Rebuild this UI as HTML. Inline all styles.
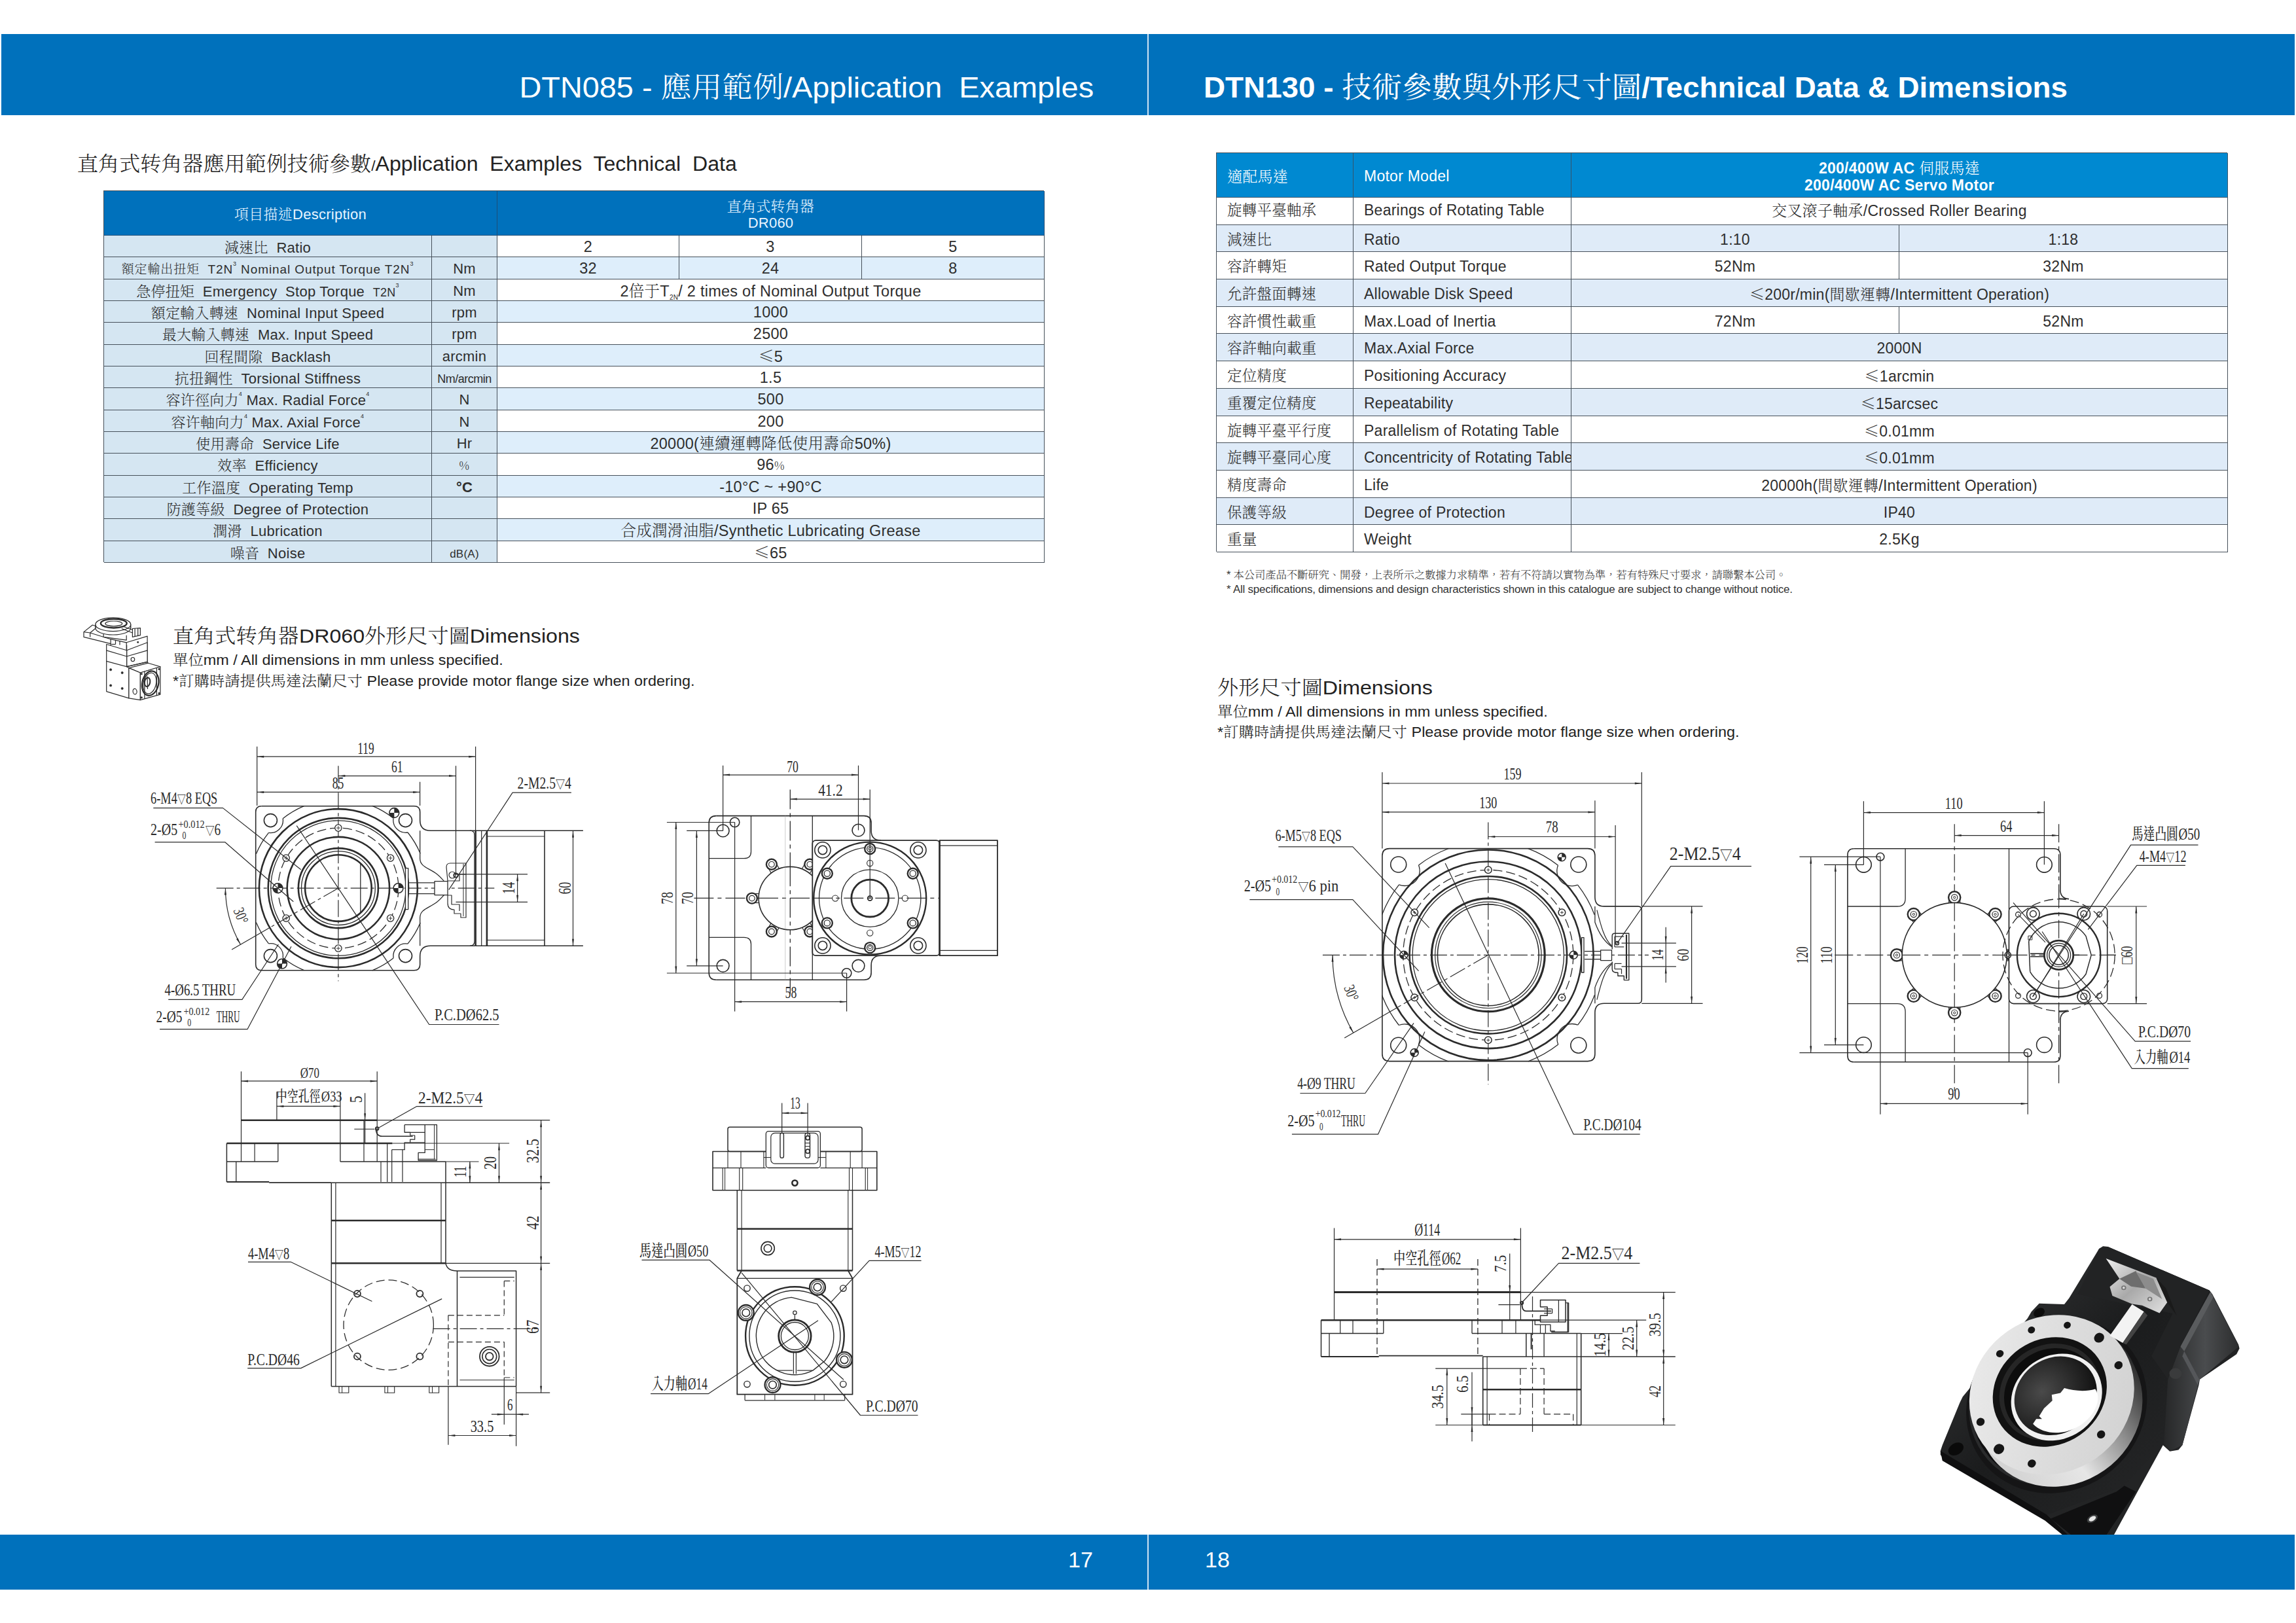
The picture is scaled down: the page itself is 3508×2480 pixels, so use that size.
<!DOCTYPE html><html lang="zh-Hant"><head><meta charset="utf-8"><title>DTN085 / DTN130</title><style>
html,body{margin:0;padding:0;background:#fff}
body{width:3508px;height:2480px;position:relative;overflow:hidden;font-family:"Liberation Sans","Noto Serif CJK SC",sans-serif;color:#2e2e2e}
.cj{font-family:"Noto Serif CJK SC","Liberation Sans",serif;font-weight:300}
.band{position:absolute;background:#0071bc}
.vsep{position:absolute;width:2px;background:#cfe3f3}
.t{position:absolute;white-space:nowrap;line-height:1;transform-origin:left}
.hd{font-size:44px;color:#fff}
.hd.b{font-weight:bold}
.hd .n{font-weight:400}
.pg{font-size:34px;color:#fff}
.h1{font-size:31px;color:#222}
.h2{font-size:30px;color:#222}
.sub{font-size:22px;color:#222;transform:scaleX(1.064)}
.fn{font-size:16px;color:#333;letter-spacing:-.2px}
.tbl{position:absolute;box-shadow:-1px -1px 0 0 #46505a}
.c{position:absolute;box-sizing:border-box;border:solid #46505a;border-width:0 1px 1px 0;display:flex;align-items:center;justify-content:center;text-align:center;font-size:22px;white-space:nowrap;line-height:1;letter-spacing:.25px;padding-top:3px}
.c.l{justify-content:flex-start;padding-left:16px;text-align:left}
.c sup{font-size:9px;vertical-align:top;position:relative;top:-1px;line-height:1}
.c sub{font-size:10px;vertical-align:baseline;position:relative;top:5px;line-height:1}
.lh{background:#0071bc;color:#e8f4ff;border-color:#1d4f78}
.rh{background:#0089d1;color:#fff;font-size:23px;border-color:#35556b}
.lab{background:#d5e6f2}
.wh{background:#fff}
.tbl:not(.r) .wh,.tbl:not(.r) .lb{font-size:23.5px}
.lb{background:#deeefb}
.rb{background:#dfebf8}
.r .c{font-size:23px;padding-top:4px;padding-bottom:0}
.r .c.f1{padding-top:0;padding-bottom:3px}
.sm{font-size:19px;letter-spacing:.9px}
.le{font-family:"Noto Serif CJK SC",serif;font-weight:300}
svg{position:absolute;left:0;top:0}
svg *{vector-effect:none}
.dw{fill:none;stroke:#2b2b2b;stroke-linecap:butt;stroke-linejoin:round}
.ct{font-family:"Liberation Serif","Noto Serif CJK SC",serif;fill:#2b2b2b;stroke:none}
tspan.tri{font-size:.72em}
.ck{font-family:"Noto Serif CJK SC","Liberation Serif",serif;font-weight:500;fill:#2b2b2b;stroke:none}
</style></head><body>
<div class="band" style="left:2px;top:52px;width:3504px;height:124px"></div>
<div class="vsep" style="left:1753px;top:52px;height:124px"></div>
<div class="band" style="left:0;top:2345px;width:3506px;height:84px"></div>
<div class="vsep" style="left:1753px;top:2345px;height:84px"></div>
<div class="t hd" style="right:1837px;top:108px;transform:scaleX(1.065);transform-origin:right">DTN085 - <span class="cj">應用範例</span>/Application&nbsp; Examples</div>
<div class="t hd b" style="left:1839px;top:108px;transform:scaleX(1.041)">DTN130 - <span class="cj n">技術參數與外形尺寸圖</span>/Technical Data &amp; Dimensions</div>
<div class="t pg" style="left:1632px;top:2366px">17</div>
<div class="t pg" style="left:1841px;top:2366px">18</div>
<div class="t h1" style="left:118px;top:232px;transform:scaleX(1.035)"><span class="cj">直角式转角器應用範例技術參數</span><span style="font-size:22px">/</span>Application&nbsp; Examples&nbsp; Technical&nbsp; Data</div>
<div class="t h2" style="left:264px;top:954px;transform:scaleX(1.072)"><span class="cj">直角式转角器</span>DR060<span class="cj">外形尺寸圖</span>Dimensions</div>
<div class="t sub" style="left:264px;top:996px"><span class="cj">單位</span>mm / All dimensions in mm unless specified.</div>
<div class="t sub" style="left:264px;top:1028px">*<span class="cj">訂購時請提供馬達法蘭尺寸</span> Please provide motor flange size when ordering.</div>
<div class="t h2" style="left:1860px;top:1033px;transform:scaleX(1.072)"><span class="cj">外形尺寸圖</span>Dimensions</div>
<div class="t sub" style="left:1860px;top:1075px"><span class="cj">單位</span>mm / All dimensions in mm unless specified.</div>
<div class="t sub" style="left:1860px;top:1106px">*<span class="cj">訂購時請提供馬達法蘭尺寸</span> Please provide motor flange size when ordering.</div>
<div class="t fn" style="left:1874px;top:870px;transform:scaleX(1.028)">* <span class="cj">本公司產品不斷研究、開發，上表所示之數據力求精準，若有不符請以實物為準，若有特殊尺寸要求，請聯繫本公司。</span></div>
<div class="t fn" style="left:1874px;top:893px;transform:scaleX(1.057)">* All specifications, dimensions and design characteristics shown in this catalogue are subject to change without notice.</div>
<div class="tbl" style="left:159px;top:292px;width:1437px;height:568px">
<div class="c lh" style="left:0.0px;top:0.0px;width:601.0px;height:68.0px;"><span><span class="cj">項目描述</span>Description</span></div>
<div class="c lh" style="left:601.0px;top:0.0px;width:836.0px;height:68.0px;line-height:25px"><span><span class="cj">直角式转角器</span><br>DR060</span></div>
<div class="c lab" style="left:0.0px;top:68.0px;width:501.0px;height:33.0px;"><span><span class="cj">減速比</span>&nbsp; Ratio</span></div>
<div class="c lab" style="left:501.0px;top:68.0px;width:100.0px;height:33.0px;"><span></span></div>
<div class="c wh" style="left:601.0px;top:68.0px;width:278.0px;height:33.0px;"><span>2</span></div>
<div class="c wh" style="left:879.0px;top:68.0px;width:279.0px;height:33.0px;"><span>3</span></div>
<div class="c wh" style="left:1158.0px;top:68.0px;width:279.0px;height:33.0px;"><span>5</span></div>
<div class="c lab" style="left:0.0px;top:101.0px;width:501.0px;height:34.0px;"><span><span class="sm"><span class="cj">額定輸出扭矩</span>&nbsp; T2N<sup>3</sup> Nominal Output Torque T2N<sup>3</sup></span></span></div>
<div class="c lab" style="left:501.0px;top:101.0px;width:100.0px;height:34.0px;"><span>Nm</span></div>
<div class="c lb" style="left:601.0px;top:101.0px;width:278.0px;height:34.0px;"><span>32</span></div>
<div class="c lb" style="left:879.0px;top:101.0px;width:279.0px;height:34.0px;"><span>24</span></div>
<div class="c lb" style="left:1158.0px;top:101.0px;width:279.0px;height:34.0px;"><span>8</span></div>
<div class="c lab" style="left:0.0px;top:135.0px;width:501.0px;height:33.0px;"><span><span class="cj">急停扭矩</span>&nbsp; Emergency&nbsp; Stop Torque&nbsp; <span style="font-size:18px">T2N<sup>3</sup></span></span></div>
<div class="c lab" style="left:501.0px;top:135.0px;width:100.0px;height:33.0px;"><span>Nm</span></div>
<div class="c wh" style="left:601.0px;top:135.0px;width:836.0px;height:33.0px;"><span>2<span class="cj">倍于</span>T<sub>2N</sub>/ 2 times of Nominal Output Torque</span></div>
<div class="c lab" style="left:0.0px;top:168.0px;width:501.0px;height:33.0px;"><span><span class="cj">額定輸入轉速</span>&nbsp; Nominal Input Speed</span></div>
<div class="c lab" style="left:501.0px;top:168.0px;width:100.0px;height:33.0px;"><span>rpm</span></div>
<div class="c lb" style="left:601.0px;top:168.0px;width:836.0px;height:33.0px;"><span>1000</span></div>
<div class="c lab" style="left:0.0px;top:201.0px;width:501.0px;height:34.0px;"><span><span class="cj">最大輸入轉速</span>&nbsp; Max. Input Speed</span></div>
<div class="c lab" style="left:501.0px;top:201.0px;width:100.0px;height:34.0px;"><span>rpm</span></div>
<div class="c wh" style="left:601.0px;top:201.0px;width:836.0px;height:34.0px;"><span>2500</span></div>
<div class="c lab" style="left:0.0px;top:235.0px;width:501.0px;height:33.0px;"><span><span class="cj">回程間隙</span>&nbsp; Backlash</span></div>
<div class="c lab" style="left:501.0px;top:235.0px;width:100.0px;height:33.0px;"><span>arcmin</span></div>
<div class="c lb" style="left:601.0px;top:235.0px;width:836.0px;height:33.0px;"><span><span class="le" lang="zh-CN">≤</span>5</span></div>
<div class="c lab" style="left:0.0px;top:268.0px;width:501.0px;height:33.0px;"><span><span class="cj">抗扭鋼性</span>&nbsp; Torsional Stiffness</span></div>
<div class="c lab" style="left:501.0px;top:268.0px;width:100.0px;height:33.0px;"><span><span style="font-size:18px;letter-spacing:-.5px">Nm/arcmin</span></span></div>
<div class="c wh" style="left:601.0px;top:268.0px;width:836.0px;height:33.0px;"><span>1.5</span></div>
<div class="c lab" style="left:0.0px;top:301.0px;width:501.0px;height:34.0px;"><span><span class="cj">容许徑向力</span><sup>4</sup> Max. Radial Force<sup>4</sup></span></div>
<div class="c lab" style="left:501.0px;top:301.0px;width:100.0px;height:34.0px;"><span>N</span></div>
<div class="c lb" style="left:601.0px;top:301.0px;width:836.0px;height:34.0px;"><span>500</span></div>
<div class="c lab" style="left:0.0px;top:335.0px;width:501.0px;height:33.0px;"><span><span class="cj">容许軸向力</span><sup>4</sup> Max. Axial Force<sup>4</sup></span></div>
<div class="c lab" style="left:501.0px;top:335.0px;width:100.0px;height:33.0px;"><span>N</span></div>
<div class="c wh" style="left:601.0px;top:335.0px;width:836.0px;height:33.0px;"><span>200</span></div>
<div class="c lab" style="left:0.0px;top:368.0px;width:501.0px;height:33.0px;"><span><span class="cj">使用壽命</span>&nbsp; Service Life</span></div>
<div class="c lab" style="left:501.0px;top:368.0px;width:100.0px;height:33.0px;"><span>Hr</span></div>
<div class="c lb" style="left:601.0px;top:368.0px;width:836.0px;height:33.0px;"><span>20000(<span class="cj">連續運轉降低使用壽命</span>50%)</span></div>
<div class="c lab" style="left:0.0px;top:401.0px;width:501.0px;height:34.0px;"><span><span class="cj">效率</span>&nbsp; Efficiency</span></div>
<div class="c lab" style="left:501.0px;top:401.0px;width:100.0px;height:34.0px;"><span><span class="cj" style="font-size:17px">%</span></span></div>
<div class="c wh" style="left:601.0px;top:401.0px;width:836.0px;height:34.0px;"><span>96<span class="cj" style="font-size:17px">%</span></span></div>
<div class="c lab" style="left:0.0px;top:435.0px;width:501.0px;height:33.0px;"><span><span class="cj">工作溫度</span>&nbsp; Operating Temp</span></div>
<div class="c lab" style="left:501.0px;top:435.0px;width:100.0px;height:33.0px;"><span><b>°C</b></span></div>
<div class="c lb" style="left:601.0px;top:435.0px;width:836.0px;height:33.0px;"><span>-10°C ~ +90°C</span></div>
<div class="c lab" style="left:0.0px;top:468.0px;width:501.0px;height:33.0px;"><span><span class="cj">防護等級</span>&nbsp; Degree of Protection</span></div>
<div class="c lab" style="left:501.0px;top:468.0px;width:100.0px;height:33.0px;"><span></span></div>
<div class="c wh" style="left:601.0px;top:468.0px;width:836.0px;height:33.0px;"><span>IP 65</span></div>
<div class="c lab" style="left:0.0px;top:501.0px;width:501.0px;height:34.0px;"><span><span class="cj">潤滑</span>&nbsp; Lubrication</span></div>
<div class="c lab" style="left:501.0px;top:501.0px;width:100.0px;height:34.0px;"><span></span></div>
<div class="c lb" style="left:601.0px;top:501.0px;width:836.0px;height:34.0px;"><span><span class="cj">合成潤滑油脂</span>/Synthetic Lubricating Grease</span></div>
<div class="c lab" style="left:0.0px;top:535.0px;width:501.0px;height:33.0px;"><span><span class="cj">噪音</span>&nbsp; Noise</span></div>
<div class="c lab" style="left:501.0px;top:535.0px;width:100.0px;height:33.0px;"><span><span style="font-size:17px">dB(A)</span></span></div>
<div class="c wh" style="left:601.0px;top:535.0px;width:836.0px;height:33.0px;"><span><span class="le" lang="zh-CN">≤</span>65</span></div>
</div>
<div class="tbl r" style="left:1859px;top:234px;width:1545px;height:610px">
<div class="c rh l" style="left:0.0px;top:0.0px;width:209.0px;height:68.0px;"><span><span class="cj">適配馬達</span></span></div>
<div class="c rh l" style="left:209.0px;top:0.0px;width:333.0px;height:68.0px;"><span>Motor Model</span></div>
<div class="c rh" style="left:542.0px;top:0.0px;width:1003.0px;height:68.0px;line-height:26px"><span><b>200/400W AC</b> <span class="cj">伺服馬達</span><br><b>200/400W AC Servo Motor</b></span></div>
<div class="c wh f1 l" style="left:0.0px;top:68.0px;width:209.0px;height:42.0px;"><span><span class="cj" style="position:relative;top:-1px;font-size:22.5px">旋轉平臺軸承</span></span></div>
<div class="c wh f1 l" style="left:209.0px;top:68.0px;width:333.0px;height:42.0px;"><span>Bearings of Rotating Table</span></div>
<div class="c wh f1" style="left:542.0px;top:68.0px;width:1003.0px;height:42.0px;"><span><span class="cj">交叉滾子軸承</span>/Crossed Roller Bearing</span></div>
<div class="c rb l" style="left:0.0px;top:110.0px;width:209.0px;height:41.0px;"><span><span class="cj" style="position:relative;top:-1px;font-size:22.5px">減速比</span></span></div>
<div class="c rb l" style="left:209.0px;top:110.0px;width:333.0px;height:41.0px;"><span>Ratio</span></div>
<div class="c rb" style="left:542.0px;top:110.0px;width:501.0px;height:41.0px;"><span>1:10</span></div>
<div class="c rb" style="left:1043.0px;top:110.0px;width:502.0px;height:41.0px;"><span>1:18</span></div>
<div class="c wh l" style="left:0.0px;top:151.0px;width:209.0px;height:42.0px;"><span><span class="cj" style="position:relative;top:-1px;font-size:22.5px">容許轉矩</span></span></div>
<div class="c wh l" style="left:209.0px;top:151.0px;width:333.0px;height:42.0px;"><span>Rated Output Torque</span></div>
<div class="c wh" style="left:542.0px;top:151.0px;width:501.0px;height:42.0px;"><span>52Nm</span></div>
<div class="c wh" style="left:1043.0px;top:151.0px;width:502.0px;height:42.0px;"><span>32Nm</span></div>
<div class="c rb l" style="left:0.0px;top:193.0px;width:209.0px;height:42.0px;"><span><span class="cj" style="position:relative;top:-1px;font-size:22.5px">允許盤面轉速</span></span></div>
<div class="c rb l" style="left:209.0px;top:193.0px;width:333.0px;height:42.0px;"><span>Allowable Disk Speed</span></div>
<div class="c rb" style="left:542.0px;top:193.0px;width:1003.0px;height:42.0px;"><span><span class="le" lang="zh-CN">≤</span>200r/min(<span class="cj">間歇運轉</span>/Intermittent Operation)</span></div>
<div class="c wh l" style="left:0.0px;top:235.0px;width:209.0px;height:41.0px;"><span><span class="cj" style="position:relative;top:-1px;font-size:22.5px">容許慣性載重</span></span></div>
<div class="c wh l" style="left:209.0px;top:235.0px;width:333.0px;height:41.0px;"><span>Max.Load of Inertia</span></div>
<div class="c wh" style="left:542.0px;top:235.0px;width:501.0px;height:41.0px;"><span>72Nm</span></div>
<div class="c wh" style="left:1043.0px;top:235.0px;width:502.0px;height:41.0px;"><span>52Nm</span></div>
<div class="c rb l" style="left:0.0px;top:276.0px;width:209.0px;height:42.0px;"><span><span class="cj" style="position:relative;top:-1px;font-size:22.5px">容許軸向載重</span></span></div>
<div class="c rb l" style="left:209.0px;top:276.0px;width:333.0px;height:42.0px;"><span>Max.Axial Force</span></div>
<div class="c rb" style="left:542.0px;top:276.0px;width:1003.0px;height:42.0px;"><span>2000N</span></div>
<div class="c wh l" style="left:0.0px;top:318.0px;width:209.0px;height:42.0px;"><span><span class="cj" style="position:relative;top:-1px;font-size:22.5px">定位精度</span></span></div>
<div class="c wh l" style="left:209.0px;top:318.0px;width:333.0px;height:42.0px;"><span>Positioning Accuracy</span></div>
<div class="c wh" style="left:542.0px;top:318.0px;width:1003.0px;height:42.0px;"><span><span class="le" lang="zh-CN">≤</span>1arcmin</span></div>
<div class="c rb l" style="left:0.0px;top:360.0px;width:209.0px;height:42.0px;"><span><span class="cj" style="position:relative;top:-1px;font-size:22.5px">重覆定位精度</span></span></div>
<div class="c rb l" style="left:209.0px;top:360.0px;width:333.0px;height:42.0px;"><span>Repeatability</span></div>
<div class="c rb" style="left:542.0px;top:360.0px;width:1003.0px;height:42.0px;"><span><span class="le" lang="zh-CN">≤</span>15arcsec</span></div>
<div class="c wh l" style="left:0.0px;top:402.0px;width:209.0px;height:41.0px;"><span><span class="cj" style="position:relative;top:-1px;font-size:22.5px">旋轉平臺平行度</span></span></div>
<div class="c wh l" style="left:209.0px;top:402.0px;width:333.0px;height:41.0px;"><span>Parallelism of Rotating Table</span></div>
<div class="c wh" style="left:542.0px;top:402.0px;width:1003.0px;height:41.0px;"><span><span class="le" lang="zh-CN">≤</span>0.01mm</span></div>
<div class="c rb l" style="left:0.0px;top:443.0px;width:209.0px;height:42.0px;"><span><span class="cj" style="position:relative;top:-1px;font-size:22.5px">旋轉平臺同心度</span></span></div>
<div class="c rb l" style="left:209.0px;top:443.0px;width:333.0px;height:42.0px;"><span>Concentricity of Rotating Table</span></div>
<div class="c rb" style="left:542.0px;top:443.0px;width:1003.0px;height:42.0px;"><span><span class="le" lang="zh-CN">≤</span>0.01mm</span></div>
<div class="c wh l" style="left:0.0px;top:485.0px;width:209.0px;height:42.0px;"><span><span class="cj" style="position:relative;top:-1px;font-size:22.5px">精度壽命</span></span></div>
<div class="c wh l" style="left:209.0px;top:485.0px;width:333.0px;height:42.0px;"><span>Life</span></div>
<div class="c wh" style="left:542.0px;top:485.0px;width:1003.0px;height:42.0px;"><span>20000h(<span class="cj">間歇運轉</span>/Intermittent Operation)</span></div>
<div class="c rb l" style="left:0.0px;top:527.0px;width:209.0px;height:41.0px;"><span><span class="cj" style="position:relative;top:-1px;font-size:22.5px">保護等級</span></span></div>
<div class="c rb l" style="left:209.0px;top:527.0px;width:333.0px;height:41.0px;"><span>Degree of Protection</span></div>
<div class="c rb" style="left:542.0px;top:527.0px;width:1003.0px;height:41.0px;"><span>IP40</span></div>
<div class="c wh l" style="left:0.0px;top:568.0px;width:209.0px;height:42.0px;"><span><span class="cj" style="position:relative;top:-1px;font-size:22.5px">重量</span></span></div>
<div class="c wh l" style="left:209.0px;top:568.0px;width:333.0px;height:42.0px;"><span>Weight</span></div>
<div class="c wh" style="left:542.0px;top:568.0px;width:1003.0px;height:42.0px;"><span>2.5Kg</span></div>
</div>
<svg class="dw" width="3508" height="2480" viewBox="0 0 3508 2480"><g id="d1"><line x1="516.9" y1="1170.2" x2="516.9" y2="1499.2" stroke-width="1.2" stroke-dasharray="26 5 5 5"/><line x1="330.7" y1="1357.1" x2="755.3" y2="1357.1" stroke-width="1.2" stroke-dasharray="26 5 5 5"/><path d="M399.7 1231.8 L632.7 1231.8 Q641.7 1231.8 641.7 1240.8 L641.7 1253.2 Q641.7 1269.2 657.7 1269.2 L726.6 1269.2" stroke-width="1.6"/><path d="M399.7 1482.8 L632.7 1482.8 Q641.7 1482.8 641.7 1473.8 L641.7 1461.2 Q641.7 1445.2 657.7 1445.2 L726.6 1445.2" stroke-width="1.6"/><path d="M399.7 1231.8 Q390.7 1231.8 390.7 1240.8 L390.7 1473.8 Q390.7 1482.8 399.7 1482.8" stroke-width="1.6"/><path d="M718 1269.2 Q724.9 1269.2 724.9 1276.2 L724.9 1438.2 Q724.9 1445.2 718 1445.2" stroke-width="1.2"/><circle cx="413.4" cy="1253.6" r="10" stroke-width="1.6"/><path d="M391.4 1304.7 A136 136 0 0 1 410.5 1272.4" stroke-width="1.3"/><path d="M432.2 1250.7 A136 136 0 0 1 464.5 1231.6" stroke-width="1.3"/><path d="M410.5 1272.4 A19 19 0 0 0 432.2 1250.7" stroke-width="1.3"/><circle cx="619.5" cy="1253.6" r="10" stroke-width="1.6"/><path d="M568.8 1231.4 A136 136 0 0 1 601.1 1250.3" stroke-width="1.3"/><path d="M623 1272 A136 136 0 0 1 642.2 1304.2" stroke-width="1.3"/><path d="M601.1 1250.3 A19 19 0 0 0 623 1272" stroke-width="1.3"/><circle cx="413.4" cy="1460.6" r="10" stroke-width="1.6"/><path d="M464.5 1482.6 A136 136 0 0 1 432.2 1463.5" stroke-width="1.3"/><path d="M410.5 1441.8 A136 136 0 0 1 391.4 1409.5" stroke-width="1.3"/><path d="M432.2 1463.5 A19 19 0 0 0 410.5 1441.8" stroke-width="1.3"/><circle cx="619.5" cy="1460.6" r="10" stroke-width="1.6"/><path d="M642.2 1410 A136 136 0 0 1 623 1442.2" stroke-width="1.3"/><path d="M601.1 1463.9 A136 136 0 0 1 568.8 1482.8" stroke-width="1.3"/><path d="M623 1442.2 A19 19 0 0 0 601.1 1463.9" stroke-width="1.3"/><circle cx="516.9" cy="1357.1" r="121" stroke-width="2.6"/><circle cx="516.9" cy="1357.1" r="107.2" stroke-width="2.6"/><circle cx="516.9" cy="1357.1" r="103.2" stroke-width="1.3"/><circle cx="516.9" cy="1357.1" r="92" stroke-width="1.3" stroke-dasharray="14 6"/><circle cx="516.9" cy="1357.1" r="78.2" stroke-width="2.6"/><circle cx="516.9" cy="1357.1" r="61" stroke-width="2.6"/><circle cx="516.9" cy="1357.1" r="56.4" stroke-width="1.3"/><circle cx="516.9" cy="1357.1" r="50.8" stroke-width="2.6"/><line x1="550.8" y1="1320.1" x2="550.8" y2="1394.1" stroke-width="1.3"/><circle cx="516.9" cy="1265.1" r="5.2" stroke-width="1.3" fill="#fff"/><line x1="513.9" y1="1265.1" x2="519.9" y2="1265.1" stroke-width="0.9"/><line x1="516.9" y1="1262.1" x2="516.9" y2="1268.1" stroke-width="0.9"/><circle cx="596.6" cy="1311.1" r="5.2" stroke-width="1.3" fill="#fff"/><line x1="593.6" y1="1311.1" x2="599.6" y2="1311.1" stroke-width="0.9"/><line x1="596.6" y1="1308.1" x2="596.6" y2="1314.1" stroke-width="0.9"/><circle cx="596.6" cy="1403.1" r="5.2" stroke-width="1.3" fill="#fff"/><line x1="593.6" y1="1403.1" x2="599.6" y2="1403.1" stroke-width="0.9"/><line x1="596.6" y1="1400.1" x2="596.6" y2="1406.1" stroke-width="0.9"/><circle cx="516.9" cy="1449.1" r="5.2" stroke-width="1.3" fill="#fff"/><line x1="513.9" y1="1449.1" x2="519.9" y2="1449.1" stroke-width="0.9"/><line x1="516.9" y1="1446.1" x2="516.9" y2="1452.1" stroke-width="0.9"/><circle cx="437.2" cy="1403.1" r="5.2" stroke-width="1.3" fill="#fff"/><line x1="434.2" y1="1403.1" x2="440.2" y2="1403.1" stroke-width="0.9"/><line x1="437.2" y1="1400.1" x2="437.2" y2="1406.1" stroke-width="0.9"/><circle cx="437.2" cy="1311.1" r="5.2" stroke-width="1.3" fill="#fff"/><line x1="434.2" y1="1311.1" x2="440.2" y2="1311.1" stroke-width="0.9"/><line x1="437.2" y1="1308.1" x2="437.2" y2="1314.1" stroke-width="0.9"/><circle cx="424.5" cy="1357.1" r="7.4" stroke-width="1.6" fill="#fff"/><path d="M424.5 1357.1 L424.5 1349.7 A7.4 7.4 0 0 1 431.9 1357.1 Z" fill="#2b2b2b" stroke="none"/><path d="M424.5 1357.1 L424.5 1364.5 A7.4 7.4 0 0 1 417.1 1357.1 Z" fill="#2b2b2b" stroke="none"/><circle cx="608.6" cy="1357.1" r="7.4" stroke-width="1.6" fill="#fff"/><path d="M608.6 1357.1 L608.6 1349.7 A7.4 7.4 0 0 1 616 1357.1 Z" fill="#2b2b2b" stroke="none"/><path d="M608.6 1357.1 L608.6 1364.5 A7.4 7.4 0 0 1 601.2 1357.1 Z" fill="#2b2b2b" stroke="none"/><circle cx="602.3" cy="1242" r="7.4" stroke-width="1.6" fill="#fff"/><path d="M602.3 1242 L602.3 1234.6 A7.4 7.4 0 0 1 609.7 1242 Z" fill="#2b2b2b" stroke="none"/><path d="M602.3 1242 L602.3 1249.4 A7.4 7.4 0 0 1 594.9 1242 Z" fill="#2b2b2b" stroke="none"/><circle cx="431" cy="1472.6" r="7.4" stroke-width="1.6" fill="#fff"/><path d="M431 1472.6 L431 1465.2 A7.4 7.4 0 0 1 438.4 1472.6 Z" fill="#2b2b2b" stroke="none"/><path d="M431 1472.6 L431 1480 A7.4 7.4 0 0 1 423.6 1472.6 Z" fill="#2b2b2b" stroke="none"/><rect x="619.5" y="1326.6" width="4.2" height="63" stroke-width="1.3" fill="#fff"/><path d="M641.7 1269.2 L641.7 1312 C642 1325 655 1326 668 1336 C678 1344 680 1352 684 1346" stroke-width="1.3"/><path d="M641.7 1445.2 L641.7 1402 C642 1389 655 1388 668 1378 C678 1370 680 1362 684 1368" stroke-width="1.3"/><line x1="624" y1="1348.8" x2="664" y2="1348.8" stroke-width="1.3"/><line x1="624" y1="1365.6" x2="664" y2="1365.6" stroke-width="1.3"/><rect x="664" y="1346.6" width="20" height="21" stroke-width="1.3" fill="#fff"/><path d="M684 1346 L682 1325 Q682 1319 688 1319 L712 1319 L712 1402 L704 1402 L704 1396 L694 1396 L694 1390 Q684 1390 684 1380 L684 1368" stroke-width="1.2"/><path d="M684 1346 L702 1346 L702 1336 L712 1336" stroke-width="1.2"/><path d="M684 1368 L690 1368 L690 1382 L702 1382 L702 1392" stroke-width="1.2"/><circle cx="691" cy="1337" r="5" stroke-width="1.2"/><circle cx="696.5" cy="1337.5" r="3.2" stroke-width="1.8"/><line x1="708" y1="1320" x2="708" y2="1400" stroke-width="1"/><line x1="726.6" y1="1269.2" x2="726.6" y2="1445.2" stroke-width="2.6"/><line x1="735.7" y1="1269.2" x2="735.7" y2="1445.2" stroke-width="1.2"/><line x1="743.9" y1="1269.2" x2="743.9" y2="1445.2" stroke-width="2.6"/><line x1="726.6" y1="1269.2" x2="890.9" y2="1269.2" stroke-width="1.4"/><line x1="726.6" y1="1445.2" x2="890.9" y2="1445.2" stroke-width="1.4"/><line x1="743.9" y1="1278" x2="832" y2="1278" stroke-width="1.2"/><line x1="743.9" y1="1436.5" x2="832" y2="1436.5" stroke-width="1.2"/><line x1="832" y1="1269.2" x2="832" y2="1445.2" stroke-width="1.6"/><line x1="875.5" y1="1269.2" x2="875.5" y2="1445.2" stroke-width="1.2"/><path d="M875.5 1269.2 L877 1279.7 L874 1279.7 Z" fill="#2b2b2b" stroke="none"/><path d="M875.5 1445.2 L874 1434.7 L877 1434.7 Z" fill="#2b2b2b" stroke="none"/><text class="ct" x="871.6" y="1357.1" font-size="27" text-anchor="middle" transform="rotate(-90 871.6 1357.1)" textLength="18.5" lengthAdjust="spacingAndGlyphs">60</text><line x1="696.5" y1="1335.8" x2="806" y2="1335.8" stroke-width="1.2"/><line x1="696.5" y1="1378.3" x2="806" y2="1378.3" stroke-width="1.2"/><line x1="790.6" y1="1335.8" x2="790.6" y2="1378.3" stroke-width="1.2"/><path d="M790.6 1335.8 L792.1 1346.3 L789.1 1346.3 Z" fill="#2b2b2b" stroke="none"/><path d="M790.6 1378.3 L789.1 1367.8 L792.1 1367.8 Z" fill="#2b2b2b" stroke="none"/><text class="ct" x="785.8" y="1357.1" font-size="27" text-anchor="middle" transform="rotate(-90 785.8 1357.1)" textLength="18.5" lengthAdjust="spacingAndGlyphs">14</text><line x1="392.7" y1="1140.8" x2="392.7" y2="1231" stroke-width="1.2"/><line x1="726.6" y1="1140.8" x2="726.6" y2="1269.2" stroke-width="1.2"/><line x1="392.7" y1="1156.2" x2="726.6" y2="1156.2" stroke-width="1.2"/><path d="M392.7 1156.2 L403.2 1154.7 L403.2 1157.7 Z" fill="#2b2b2b" stroke="none"/><path d="M726.6 1156.2 L716.1 1157.7 L716.1 1154.7 Z" fill="#2b2b2b" stroke="none"/><text class="ct" x="546.3" y="1151.6" font-size="26" textLength="25.5" lengthAdjust="spacingAndGlyphs">119</text><line x1="696.5" y1="1170.2" x2="696.5" y2="1336.8" stroke-width="1.2"/><line x1="516.9" y1="1185.6" x2="696.5" y2="1185.6" stroke-width="1.2"/><path d="M516.9 1185.6 L527.4 1184.1 L527.4 1187.1 Z" fill="#2b2b2b" stroke="none"/><path d="M696.5 1185.6 L686 1187.1 L686 1184.1 Z" fill="#2b2b2b" stroke="none"/><text class="ct" x="597.9" y="1180" font-size="26" textLength="17.6" lengthAdjust="spacingAndGlyphs">61</text><line x1="641.6" y1="1194.7" x2="641.6" y2="1231" stroke-width="1.2"/><line x1="392.7" y1="1210.4" x2="641.6" y2="1210.4" stroke-width="1.2"/><path d="M392.7 1210.4 L403.2 1208.9 L403.2 1211.9 Z" fill="#2b2b2b" stroke="none"/><path d="M641.6 1210.4 L631.1 1211.9 L631.1 1208.9 Z" fill="#2b2b2b" stroke="none"/><text class="ct" x="507.7" y="1204.5" font-size="26" textLength="17.6" lengthAdjust="spacingAndGlyphs">85</text><path d="M234.3 1234.6 L340.5 1234.6 L459.7 1328.7" stroke-width="1.2"/><text class="ct" x="230.1" y="1228.1" font-size="26" textLength="102.2" lengthAdjust="spacingAndGlyphs">6-M4<tspan class="tri">▽</tspan>8 EQS</text><path d="M236.6 1286.8 L343.7 1286.8 L448.3 1377.7" stroke-width="1.2"/><text class="ct" x="230.1" y="1276.4" font-size="26" textLength="41.2" lengthAdjust="spacingAndGlyphs">2-Ø5</text><text class="ct" x="272.5" y="1265" font-size="17" textLength="40.2" lengthAdjust="spacingAndGlyphs">+0.012</text><text class="ct" x="278.4" y="1282.3" font-size="17" textLength="5.9" lengthAdjust="spacingAndGlyphs">0</text><text class="ct" x="313.7" y="1276.4" font-size="26" textLength="23.5" lengthAdjust="spacingAndGlyphs"><tspan class="tri">▽</tspan>6</text><path d="M257.2 1527.3 L369.9 1527.3 L425.4 1443" stroke-width="1.2"/><text class="ct" x="251.6" y="1521.4" font-size="26" textLength="108.5" lengthAdjust="spacingAndGlyphs">4-Ø6.5 THRU</text><path d="M244.1 1572.7 L378 1572.7 L445 1446.3" stroke-width="1.2"/><text class="ct" x="238.5" y="1562.2" font-size="26" textLength="39.9" lengthAdjust="spacingAndGlyphs">2-Ø5</text><text class="ct" x="280.4" y="1550.8" font-size="17" textLength="39.9" lengthAdjust="spacingAndGlyphs">+0.012</text><text class="ct" x="286.2" y="1567.8" font-size="17" textLength="5.9" lengthAdjust="spacingAndGlyphs">0</text><text class="ct" x="330.7" y="1562.2" font-size="26" textLength="35.9" lengthAdjust="spacingAndGlyphs">THRU</text><path d="M762.5 1565.5 L655.7 1565.5 L453.2 1261.7" stroke-width="1.2"/><text class="ct" x="663.9" y="1559" font-size="26" textLength="98.7" lengthAdjust="spacingAndGlyphs">P.C.DØ62.5</text><path d="M872.9 1211.1 L783.1 1211.1 L685.7 1359.7" stroke-width="1.2"/><text class="ct" x="790.6" y="1205.2" font-size="26" textLength="82.3" lengthAdjust="spacingAndGlyphs">2-M2.5<tspan class="tri">▽</tspan>4</text><path d="M344.4 1357.1 A172.5 172.5 0 0 0 367.5 1443.3" stroke-width="1.2"/><path d="M344.4 1357.1 L345.9 1367.6 L342.9 1367.6 Z" fill="#2b2b2b" stroke="none"/><path d="M367.5 1443.3 L361 1435 L363.6 1433.5 Z" fill="#2b2b2b" stroke="none"/><line x1="516.9" y1="1357.1" x2="412.1" y2="1417.6" stroke-width="1.2" stroke-dasharray="26 5 5 5"/><line x1="412.1" y1="1417.6" x2="354.1" y2="1451.1" stroke-width="1.2"/><text class="ct" x="360.7" y="1402.2" font-size="24" text-anchor="middle" transform="rotate(68 360.7 1402.2)" textLength="24" lengthAdjust="spacingAndGlyphs">30°</text></g>
<g id="d2"><path d="M1094.2 1246.6 L1320.1 1246.6 Q1331.1 1246.6 1331.1 1257.6 L1331.1 1269.4 Q1331.1 1284.1 1345.9 1284.1" stroke-width="1.6"/><path d="M1094.2 1497.2 L1320.1 1497.2 Q1331.1 1497.2 1331.1 1486.2 L1331.1 1474.9 Q1331.1 1460.2 1345.9 1460.2" stroke-width="1.6"/><path d="M1094.2 1246.6 Q1083.2 1246.6 1083.2 1257.6 L1083.2 1486.2 Q1083.2 1497.2 1094.2 1497.2" stroke-width="1.6"/><line x1="1241.3" y1="1246.6" x2="1241.3" y2="1497.2" stroke-width="1.3"/><path d="M1147.5 1246.6 L1147.5 1301.5 L1147.5 1301.5 Q1147.5 1311.7 1136.8 1311.7 L1083.2 1311.7" stroke-width="1.3"/><path d="M1147.5 1497.2 L1147.5 1442.5 Q1147.5 1432.3 1136.8 1432.3 L1083.2 1432.3" stroke-width="1.3"/><line x1="1199.8" y1="1246.6" x2="1199.8" y2="1497.2" stroke-width="0.6" stroke="#aaa"/><circle cx="1104.6" cy="1269.4" r="9.4" stroke-width="1.6"/><circle cx="1311.5" cy="1268.6" r="9.4" stroke-width="1.6"/><circle cx="1104.6" cy="1475.8" r="9.4" stroke-width="1.6"/><circle cx="1311.5" cy="1475.8" r="9.4" stroke-width="1.6"/><circle cx="1122.6" cy="1256.5" r="7.2" stroke-width="1.6"/><circle cx="1293.6" cy="1487" r="7.2" stroke-width="1.6"/><line x1="1060.4" y1="1372.3" x2="1449" y2="1372.3" stroke-width="1.3" stroke-dasharray="30 6 6 6"/><line x1="1207.3" y1="1206.4" x2="1207.3" y2="1518.6" stroke-width="1.3" stroke-dasharray="30 6 6 6"/><path d="M1190.8 1328.1 L1185 1317.5" stroke-width="1.2"/><path d="M1178.6 1334.8 L1172.8 1324.2" stroke-width="1.2"/><circle cx="1178.9" cy="1320.8" r="8" stroke-width="2.4" fill="#fff"/><circle cx="1178.9" cy="1320.8" r="4.3" stroke-width="1.2"/><path d="M1236.9 1335.5 L1243.3 1324.3" stroke-width="1.2"/><path d="M1224.8 1328.5 L1231.3 1317.3" stroke-width="1.2"/><circle cx="1237.3" cy="1320.8" r="8" stroke-width="2.4" fill="#fff"/><circle cx="1237.3" cy="1320.8" r="4.3" stroke-width="1.2"/><path d="M1160.4 1365.6 L1148.9 1365.6" stroke-width="1.2"/><path d="M1160.4 1379.5 L1148.9 1379.5" stroke-width="1.2"/><circle cx="1148.9" cy="1372.6" r="8" stroke-width="2.4" fill="#fff"/><circle cx="1148.9" cy="1372.6" r="4.3" stroke-width="1.2"/><path d="M1178.3 1410.1 L1172.8 1420.1" stroke-width="1.2"/><path d="M1190.5 1416.9 L1185 1426.9" stroke-width="1.2"/><circle cx="1178.9" cy="1423.5" r="8" stroke-width="2.4" fill="#fff"/><circle cx="1178.9" cy="1423.5" r="4.3" stroke-width="1.2"/><path d="M1225.1 1416.5 L1231.3 1427" stroke-width="1.2"/><path d="M1237.1 1409.4 L1243.3 1419.9" stroke-width="1.2"/><circle cx="1237.3" cy="1423.5" r="8" stroke-width="2.4" fill="#fff"/><circle cx="1237.3" cy="1423.5" r="4.3" stroke-width="1.2"/><circle cx="1207.3" cy="1372.6" r="48.2" stroke-width="1.6" fill="#fff"/><line x1="1207.3" y1="1324.3" x2="1207.3" y2="1420.8" stroke-width="1.3" stroke-dasharray="30 6 6 6"/><line x1="1159" y1="1372.3" x2="1241.3" y2="1372.3" stroke-width="1.3" stroke-dasharray="30 6 6 6"/><line x1="1199.8" y1="1324.9" x2="1199.8" y2="1420.3" stroke-width="0.6" stroke="#aaa"/><rect x="1241.3" y="1284.1" width="194.3" height="176.1" stroke-width="1.8" rx="5" fill="#fff"/><line x1="1241.3" y1="1372.3" x2="1449" y2="1372.3" stroke-width="1.3" stroke-dasharray="30 6 6 6"/><rect x="1435.6" y="1284.1" width="88.4" height="176.1" stroke-width="1.8" fill="#fff"/><line x1="1435.6" y1="1284.1" x2="1435.6" y2="1460.2" stroke-width="2.4"/><line x1="1435.6" y1="1292.2" x2="1524.1" y2="1292.2" stroke-width="1.2"/><line x1="1435.6" y1="1452.4" x2="1524.1" y2="1452.4" stroke-width="1.2"/><circle cx="1329.2" cy="1372.6" r="86" stroke-width="2.4"/><circle cx="1329.2" cy="1372.6" r="77.7" stroke-width="1.3"/><circle cx="1329.2" cy="1372.6" r="43.7" stroke-width="1.3"/><circle cx="1329.2" cy="1372.6" r="28.4" stroke-width="2.8"/><circle cx="1329.2" cy="1372.6" r="3.5" stroke-width="1.8"/><circle cx="1256.9" cy="1298.9" r="12.1" stroke-width="1.6"/><circle cx="1256.9" cy="1298.9" r="6.7" stroke-width="1.6"/><circle cx="1402.9" cy="1298.9" r="12.1" stroke-width="1.6"/><circle cx="1402.9" cy="1298.9" r="6.7" stroke-width="1.6"/><circle cx="1256.9" cy="1444.9" r="12.1" stroke-width="1.6"/><circle cx="1256.9" cy="1444.9" r="6.7" stroke-width="1.6"/><circle cx="1402.9" cy="1444.9" r="12.1" stroke-width="1.6"/><circle cx="1402.9" cy="1444.9" r="6.7" stroke-width="1.6"/><circle cx="1329.2" cy="1297" r="8" stroke-width="2.4" fill="#fff"/><circle cx="1329.2" cy="1297" r="4.6" stroke-width="1.3"/><circle cx="1394.7" cy="1334.8" r="8" stroke-width="2.4" fill="#fff"/><circle cx="1394.7" cy="1334.8" r="4.6" stroke-width="1.3"/><circle cx="1394.7" cy="1410.4" r="8" stroke-width="2.4" fill="#fff"/><circle cx="1394.7" cy="1410.4" r="4.6" stroke-width="1.3"/><circle cx="1329.2" cy="1448.1" r="8" stroke-width="2.4" fill="#fff"/><circle cx="1329.2" cy="1448.1" r="4.6" stroke-width="1.3"/><circle cx="1263.8" cy="1410.4" r="8" stroke-width="2.4" fill="#fff"/><circle cx="1263.8" cy="1410.4" r="4.6" stroke-width="1.3"/><circle cx="1263.8" cy="1334.8" r="8" stroke-width="2.4" fill="#fff"/><circle cx="1263.8" cy="1334.8" r="4.6" stroke-width="1.3"/><circle cx="1329.2" cy="1296.7" r="2.4" stroke-width="1"/><circle cx="1329.2" cy="1447.6" r="2.4" stroke-width="1"/><circle cx="1329.2" cy="1319" r="4.6" stroke-width="1.1"/><circle cx="1276.2" cy="1372.6" r="4.6" stroke-width="1.1"/><circle cx="1382.8" cy="1372.6" r="4.6" stroke-width="1.1"/><circle cx="1329.2" cy="1425.6" r="4.6" stroke-width="1.1"/><line x1="1104.6" y1="1169.7" x2="1104.6" y2="1269.4" stroke-width="1.2"/><line x1="1311.5" y1="1169.7" x2="1311.5" y2="1268.6" stroke-width="1.2"/><line x1="1104.6" y1="1184.1" x2="1311.5" y2="1184.1" stroke-width="1.2"/><path d="M1104.6 1184.1 L1115.1 1182.6 L1115.1 1185.6 Z" fill="#2b2b2b" stroke="none"/><path d="M1311.5 1184.1 L1301 1185.6 L1301 1182.6 Z" fill="#2b2b2b" stroke="none"/><text class="ct" x="1211" y="1179.6" font-size="26" text-anchor="middle" textLength="17.7" lengthAdjust="spacingAndGlyphs">70</text><line x1="1329.2" y1="1206.4" x2="1329.2" y2="1372.6" stroke-width="1.2"/><line x1="1207.3" y1="1221.1" x2="1329.2" y2="1221.1" stroke-width="1.2"/><path d="M1207.3 1221.1 L1217.8 1219.6 L1217.8 1222.6 Z" fill="#2b2b2b" stroke="none"/><path d="M1329.2 1221.1 L1318.7 1222.6 L1318.7 1219.6 Z" fill="#2b2b2b" stroke="none"/><text class="ct" x="1268.9" y="1215.8" font-size="26" text-anchor="middle" textLength="37.5" lengthAdjust="spacingAndGlyphs">41.2</text><line x1="1018.9" y1="1256.5" x2="1122.6" y2="1256.5" stroke-width="1.2"/><line x1="1018.9" y1="1487" x2="1293.6" y2="1487" stroke-width="1.2"/><line x1="1032.8" y1="1256.5" x2="1032.8" y2="1487" stroke-width="1.2"/><path d="M1032.8 1256.5 L1034.3 1267 L1031.3 1267 Z" fill="#2b2b2b" stroke="none"/><path d="M1032.8 1487 L1031.3 1476.5 L1034.3 1476.5 Z" fill="#2b2b2b" stroke="none"/><text class="ct" x="1027.7" y="1372.3" font-size="26" text-anchor="middle" transform="rotate(-90 1027.7 1372.3)" textLength="18.8" lengthAdjust="spacingAndGlyphs">78</text><line x1="1049.2" y1="1269.4" x2="1104.6" y2="1269.4" stroke-width="1.2"/><line x1="1049.2" y1="1475.8" x2="1104.6" y2="1475.8" stroke-width="1.2"/><line x1="1064.4" y1="1269.4" x2="1064.4" y2="1475.8" stroke-width="1.2"/><path d="M1064.4 1269.4 L1065.9 1279.9 L1062.9 1279.9 Z" fill="#2b2b2b" stroke="none"/><path d="M1064.4 1475.8 L1062.9 1465.3 L1065.9 1465.3 Z" fill="#2b2b2b" stroke="none"/><text class="ct" x="1059.3" y="1372.3" font-size="26" text-anchor="middle" transform="rotate(-90 1059.3 1372.3)" textLength="18.8" lengthAdjust="spacingAndGlyphs">70</text><line x1="1122.6" y1="1256.5" x2="1122.6" y2="1545.4" stroke-width="1.2"/><line x1="1293.6" y1="1487" x2="1293.6" y2="1545.4" stroke-width="1.2"/><line x1="1122.6" y1="1530.7" x2="1293.6" y2="1530.7" stroke-width="1.2"/><path d="M1122.6 1530.7 L1133.1 1529.2 L1133.1 1532.2 Z" fill="#2b2b2b" stroke="none"/><path d="M1293.6 1530.7 L1283.1 1532.2 L1283.1 1529.2 Z" fill="#2b2b2b" stroke="none"/><text class="ct" x="1208.4" y="1525.3" font-size="26" text-anchor="middle" textLength="17.7" lengthAdjust="spacingAndGlyphs">58</text></g>
<g id="d3"><line x1="368.5" y1="1711.7" x2="576.2" y2="1711.7" stroke-width="2.4"/><line x1="576.2" y1="1711.7" x2="840.2" y2="1711.7" stroke-width="1.2"/><line x1="346.4" y1="1747" x2="599.5" y2="1747" stroke-width="2.4"/><line x1="599.5" y1="1747" x2="778.1" y2="1747" stroke-width="1.2"/><line x1="346.4" y1="1775" x2="424.8" y2="1775" stroke-width="1.5"/><line x1="519.9" y1="1775" x2="681" y2="1775" stroke-width="1.5"/><line x1="681" y1="1775" x2="731.5" y2="1775" stroke-width="1.2"/><line x1="346.4" y1="1806" x2="411.2" y2="1806" stroke-width="1.8"/><line x1="411.2" y1="1807.2" x2="506.3" y2="1807.2" stroke-width="1.8"/><line x1="506.3" y1="1807.2" x2="840.2" y2="1807.2" stroke-width="1.6"/><line x1="346.4" y1="1747" x2="346.4" y2="1806" stroke-width="1.5"/><line x1="360.8" y1="1775" x2="360.8" y2="1806" stroke-width="1.3"/><line x1="368.5" y1="1637.2" x2="368.5" y2="1775" stroke-width="1.2"/><line x1="389.1" y1="1747" x2="389.1" y2="1775" stroke-width="1.2"/><line x1="424.8" y1="1747" x2="424.8" y2="1775" stroke-width="1.3"/><line x1="519.9" y1="1747" x2="519.9" y2="1775" stroke-width="1.3"/><line x1="556" y1="1711.7" x2="556" y2="1775" stroke-width="1.2"/><line x1="576.2" y1="1637.2" x2="576.2" y2="1775" stroke-width="1.2"/><line x1="591.7" y1="1747" x2="591.7" y2="1775" stroke-width="1.2"/><line x1="582" y1="1775" x2="582" y2="1806" stroke-width="1.2"/><line x1="591.7" y1="1775" x2="591.7" y2="1806" stroke-width="1.2"/><line x1="598.7" y1="1756.7" x2="598.7" y2="1806" stroke-width="1.2"/><line x1="615" y1="1756.7" x2="615" y2="1806" stroke-width="1.2"/><line x1="598.7" y1="1756.7" x2="618.9" y2="1756.7" stroke-width="1.2"/><line x1="681" y1="1775" x2="681" y2="1930.3" stroke-width="1.5"/><path d="M618.1 1718.7 L667.4 1718.7 L667.4 1773 L639.1 1773 L639.1 1761.4 L649.2 1761.4 L649.2 1718.7" stroke-width="1.3"/><path d="M618.1 1718.7 L618.1 1730.3 L649.2 1730.3" stroke-width="1.3"/><path d="M618.1 1756.7 L618.1 1745.9 L649.2 1745.9" stroke-width="1.3"/><path d="M618.1 1730.3 L626.7 1730.3 L626.7 1735 L633.7 1735 L633.7 1741.2 L626.7 1741.2 L626.7 1745.9" stroke-width="1.2"/><line x1="663.6" y1="1718.7" x2="663.6" y2="1771.1" stroke-width="1"/><line x1="639.1" y1="1771.1" x2="665.5" y2="1771.1" stroke-width="1"/><line x1="649.2" y1="1756.7" x2="663.6" y2="1756.7" stroke-width="1"/><path d="M574.3 1723.4 Q574.3 1736.2 584 1736.2 L630.6 1736.2" stroke-width="1.6"/><circle cx="576.2" cy="1724.5" r="2.3" stroke-width="1.8"/><line x1="541.3" y1="1725.3" x2="572.3" y2="1725.3" stroke-width="1.1"/><line x1="506.3" y1="1807.2" x2="506.3" y2="2118.5" stroke-width="1.5"/><line x1="512.9" y1="1807.2" x2="512.9" y2="2118.5" stroke-width="1.2"/><line x1="674" y1="1807.2" x2="674" y2="1930.3" stroke-width="1.2"/><line x1="506.3" y1="1865" x2="681" y2="1865" stroke-width="2.4"/><line x1="506.3" y1="1930.3" x2="681" y2="1930.3" stroke-width="2.4"/><path d="M681 1930.3 Q683 1941.9 698.5 1941.9 L788.6 1941.9 L788.6 2118.5" stroke-width="1.5"/><line x1="698.5" y1="1941.9" x2="698.5" y2="2118.5" stroke-width="1.5"/><line x1="506.3" y1="2118.5" x2="788.6" y2="2118.5" stroke-width="1.6"/><line x1="702.4" y1="1951.6" x2="785.8" y2="1951.6" stroke-width="1.1"/><line x1="702.4" y1="2108.8" x2="785.8" y2="2108.8" stroke-width="1.1"/><rect x="518" y="2118.5" width="14.8" height="9.7" stroke-width="1.1"/><line x1="522.6" y1="2118.5" x2="522.6" y2="2128.2" stroke-width="1"/><rect x="587.9" y="2118.5" width="14.8" height="9.7" stroke-width="1.1"/><line x1="592.5" y1="2118.5" x2="592.5" y2="2128.2" stroke-width="1"/><rect x="655.8" y="2118.5" width="14.8" height="9.7" stroke-width="1.1"/><line x1="660.5" y1="2118.5" x2="660.5" y2="2128.2" stroke-width="1"/><circle cx="593.7" cy="2024.6" r="68.7" stroke-width="1.3" stroke-dasharray="13 6"/><circle cx="545.9" cy="1976.8" r="5" stroke-width="1.8"/><circle cx="641.4" cy="1976.8" r="5" stroke-width="1.8"/><circle cx="545.9" cy="2072.7" r="5" stroke-width="1.8"/><circle cx="641.4" cy="2072.7" r="5" stroke-width="1.8"/><circle cx="747.8" cy="2072.7" r="14.8" stroke-width="1.8"/><circle cx="747.8" cy="2072.7" r="10.9" stroke-width="1.6"/><circle cx="747.8" cy="2072.7" r="5.8" stroke-width="1.8"/><line x1="684.9" y1="2009.8" x2="684.9" y2="2118.5" stroke-width="1.2" stroke-dasharray="9 5"/><line x1="684.9" y1="2118.5" x2="684.9" y2="2207.8" stroke-width="1.2"/><line x1="684.9" y1="2009.8" x2="770.3" y2="2009.8" stroke-width="1.2" stroke-dasharray="9 5"/><line x1="770.3" y1="1957.4" x2="770.3" y2="2009.8" stroke-width="1.2" stroke-dasharray="9 5"/><line x1="770.3" y1="1957.4" x2="785.8" y2="1957.4" stroke-width="1.2" stroke-dasharray="9 5"/><line x1="684.9" y1="2050.6" x2="770.3" y2="2050.6" stroke-width="1.2" stroke-dasharray="9 5"/><line x1="770.3" y1="2050.6" x2="770.3" y2="2105" stroke-width="1.2" stroke-dasharray="9 5"/><line x1="770.3" y1="2105" x2="785.8" y2="2105" stroke-width="1.2" stroke-dasharray="9 5"/><line x1="661.6" y1="2030.4" x2="820.8" y2="2030.4" stroke-width="1.2" stroke-dasharray="26 5 5 5"/><line x1="681" y1="1930.3" x2="840.2" y2="1930.3" stroke-width="1.2"/><line x1="788.6" y1="2128.2" x2="840.2" y2="2128.2" stroke-width="1.2"/><line x1="826.6" y1="1711.7" x2="826.6" y2="1807.2" stroke-width="1.2"/><path d="M826.6 1711.7 L828.1 1722.2 L825.1 1722.2 Z" fill="#2b2b2b" stroke="none"/><path d="M826.6 1807.2 L825.1 1796.7 L828.1 1796.7 Z" fill="#2b2b2b" stroke="none"/><line x1="826.6" y1="1807.2" x2="826.6" y2="1930.3" stroke-width="1.2"/><path d="M826.6 1807.2 L828.1 1817.7 L825.1 1817.7 Z" fill="#2b2b2b" stroke="none"/><path d="M826.6 1930.3 L825.1 1919.8 L828.1 1919.8 Z" fill="#2b2b2b" stroke="none"/><line x1="826.6" y1="1930.3" x2="826.6" y2="2128.2" stroke-width="1.2"/><path d="M826.6 1930.3 L828.1 1940.8 L825.1 1940.8 Z" fill="#2b2b2b" stroke="none"/><path d="M826.6 2128.2 L825.1 2117.7 L828.1 2117.7 Z" fill="#2b2b2b" stroke="none"/><text class="ct" x="823.1" y="1758.7" font-size="27" text-anchor="middle" transform="rotate(-90 823.1 1758.7)" textLength="36.9" lengthAdjust="spacingAndGlyphs">32.5</text><text class="ct" x="823.1" y="1868.2" font-size="27" text-anchor="middle" transform="rotate(-90 823.1 1868.2)" textLength="21.4" lengthAdjust="spacingAndGlyphs">42</text><text class="ct" x="823.1" y="2027.3" font-size="27" text-anchor="middle" transform="rotate(-90 823.1 2027.3)" textLength="21.4" lengthAdjust="spacingAndGlyphs">67</text><line x1="762.5" y1="1747" x2="762.5" y2="1807.2" stroke-width="1.2"/><path d="M762.5 1747 L764 1757.5 L761 1757.5 Z" fill="#2b2b2b" stroke="none"/><path d="M762.5 1807.2 L761 1796.7 L764 1796.7 Z" fill="#2b2b2b" stroke="none"/><text class="ct" x="757.9" y="1776.9" font-size="27" text-anchor="middle" transform="rotate(-90 757.9 1776.9)" textLength="20.2" lengthAdjust="spacingAndGlyphs">20</text><line x1="717.9" y1="1775" x2="717.9" y2="1807.2" stroke-width="1.2"/><path d="M717.9 1775 L719.4 1785.5 L716.4 1785.5 Z" fill="#2b2b2b" stroke="none"/><path d="M717.9 1807.2 L716.4 1796.7 L719.4 1796.7 Z" fill="#2b2b2b" stroke="none"/><text class="ct" x="712.1" y="1790.5" font-size="27" text-anchor="middle" transform="rotate(-90 712.1 1790.5)" textLength="17.5" lengthAdjust="spacingAndGlyphs">11</text><line x1="368.5" y1="1651.9" x2="576.2" y2="1651.9" stroke-width="1.2"/><path d="M368.5 1651.9 L379 1650.4 L379 1653.4 Z" fill="#2b2b2b" stroke="none"/><path d="M576.2 1651.9 L565.7 1653.4 L565.7 1650.4 Z" fill="#2b2b2b" stroke="none"/><text class="ct" x="473.3" y="1647.3" font-size="24" text-anchor="middle" textLength="29.1" lengthAdjust="spacingAndGlyphs">Ø70</text><line x1="422.9" y1="1668.2" x2="422.9" y2="1711.7" stroke-width="1.2"/><line x1="519.9" y1="1668.2" x2="519.9" y2="1747" stroke-width="1.2"/><line x1="422.9" y1="1690.4" x2="519.9" y2="1690.4" stroke-width="1.2"/><path d="M422.9 1690.4 L433.4 1688.9 L433.4 1691.9 Z" fill="#2b2b2b" stroke="none"/><path d="M519.9 1690.4 L509.4 1691.9 L509.4 1688.9 Z" fill="#2b2b2b" stroke="none"/><text class="ck" x="421.7" y="1683" font-size="23" textLength="67.9" lengthAdjust="spacingAndGlyphs">中空孔徑</text><text class="ct" x="490.8" y="1683" font-size="24" textLength="31.8" lengthAdjust="spacingAndGlyphs">Ø33</text><line x1="557.6" y1="1670.2" x2="557.6" y2="1745.9" stroke-width="1.2"/><path d="M557.6 1711.7 L556.1 1701.2 L559.1 1701.2 Z" fill="#2b2b2b" stroke="none"/><text class="ct" x="552.9" y="1679.9" font-size="27" text-anchor="middle" transform="rotate(-90 552.9 1679.9)" textLength="10.9" lengthAdjust="spacingAndGlyphs">5</text><path d="M737.3 1690.7 L636.4 1690.7 L578.2 1723.4" stroke-width="1.2"/><text class="ct" x="639.1" y="1685.7" font-size="26" textLength="98.2" lengthAdjust="spacingAndGlyphs">2-M2.5<tspan class="tri">▽</tspan>4</text><path d="M379 1928.3 L444.2 1928.3 L568.4 1988.5" stroke-width="1.2"/><text class="ct" x="379" y="1923.7" font-size="25" textLength="63.3" lengthAdjust="spacingAndGlyphs">4-M4<tspan class="tri">▽</tspan>8</text><path d="M378.2 2090.6 L459.8 2090.6 L675.2 1984.6" stroke-width="1.2"/><text class="ct" x="378.2" y="2085.5" font-size="25" textLength="79.6" lengthAdjust="spacingAndGlyphs">P.C.DØ46</text><line x1="788.6" y1="2118.5" x2="788.6" y2="2209.8" stroke-width="1.2"/><line x1="684.9" y1="2193.5" x2="788.6" y2="2193.5" stroke-width="1.2"/><path d="M684.9 2193.5 L695.4 2192 L695.4 2195 Z" fill="#2b2b2b" stroke="none"/><path d="M788.6 2193.5 L778.1 2195 L778.1 2192 Z" fill="#2b2b2b" stroke="none"/><text class="ct" x="736.5" y="2188.4" font-size="25" text-anchor="middle" textLength="35.7" lengthAdjust="spacingAndGlyphs">33.5</text><line x1="770.3" y1="2105" x2="770.3" y2="2176.8" stroke-width="1.2"/><line x1="750.9" y1="2161.2" x2="808" y2="2161.2" stroke-width="1.2"/><path d="M770.3 2161.2 L759.8 2162.7 L759.8 2159.7 Z" fill="#2b2b2b" stroke="none"/><path d="M788.6 2161.2 L799.1 2159.7 L799.1 2162.7 Z" fill="#2b2b2b" stroke="none"/><text class="ct" x="779.2" y="2155.4" font-size="25" text-anchor="middle" textLength="8.5" lengthAdjust="spacingAndGlyphs">6</text></g>
<g id="d4"><rect x="1112" y="1722.2" width="205.1" height="37.3" stroke-width="1.5" rx="3"/><rect x="1089" y="1759.5" width="250.8" height="59.3" stroke-width="1.6"/><line x1="1089" y1="1784.6" x2="1170.3" y2="1784.6" stroke-width="1.3"/><line x1="1253.4" y1="1784.6" x2="1339.8" y2="1784.6" stroke-width="1.3"/><line x1="1104.2" y1="1784.6" x2="1104.2" y2="1818.8" stroke-width="1.1"/><line x1="1129.7" y1="1784.6" x2="1129.7" y2="1818.8" stroke-width="1.1"/><line x1="1134.7" y1="1784.6" x2="1134.7" y2="1818.8" stroke-width="1.1"/><line x1="1297.5" y1="1784.6" x2="1297.5" y2="1818.8" stroke-width="1.1"/><line x1="1302.5" y1="1784.6" x2="1302.5" y2="1818.8" stroke-width="1.1"/><line x1="1322.2" y1="1784.6" x2="1322.2" y2="1818.8" stroke-width="1.1"/><line x1="1112" y1="1759.5" x2="1112" y2="1784.6" stroke-width="1.1"/><line x1="1132" y1="1759.5" x2="1132" y2="1784.6" stroke-width="1.1"/><line x1="1166.9" y1="1759.5" x2="1166.9" y2="1784.6" stroke-width="1.1"/><line x1="1261.9" y1="1759.5" x2="1261.9" y2="1784.6" stroke-width="1.1"/><line x1="1299.2" y1="1759.5" x2="1299.2" y2="1784.6" stroke-width="1.1"/><line x1="1317.1" y1="1759.5" x2="1317.1" y2="1784.6" stroke-width="1.1"/><line x1="1107.6" y1="1784.6" x2="1107.6" y2="1818.8" stroke-width="1"/><line x1="1325.6" y1="1784.6" x2="1325.6" y2="1818.8" stroke-width="1"/><rect x="1170.3" y="1728.6" width="83.1" height="55.9" stroke-width="1.3" rx="4" fill="#fff"/><rect x="1177.8" y="1731.4" width="72.2" height="46.8" stroke-width="1.2" rx="6"/><line x1="1166.9" y1="1768.6" x2="1177.8" y2="1768.6" stroke-width="1.1"/><line x1="1250" y1="1768.6" x2="1261.9" y2="1768.6" stroke-width="1.1"/><rect x="1192" y="1731.4" width="5.4" height="38" stroke-width="1.4" rx="2.7"/><rect x="1230" y="1731.4" width="7.5" height="38" stroke-width="1.4" rx="3.4"/><circle cx="1234.1" cy="1738.8" r="3.1" stroke-width="1.8"/><circle cx="1234.1" cy="1759.2" r="3.1" stroke-width="1.6"/><line x1="1230" y1="1751.7" x2="1237.5" y2="1751.7" stroke-width="1.1"/><line x1="1230" y1="1746.6" x2="1237.5" y2="1746.6" stroke-width="1.1"/><line x1="1194.7" y1="1685.6" x2="1194.7" y2="1731.4" stroke-width="1.2"/><line x1="1234.1" y1="1685.6" x2="1234.1" y2="1734.7" stroke-width="1.2"/><line x1="1194.7" y1="1700.8" x2="1234.1" y2="1700.8" stroke-width="1.2"/><path d="M1194.7 1700.8 L1205.2 1699.3 L1205.2 1702.3 Z" fill="#2b2b2b" stroke="none"/><path d="M1234.1 1700.8 L1223.6 1702.3 L1223.6 1699.3 Z" fill="#2b2b2b" stroke="none"/><text class="ct" x="1215.1" y="1694.1" font-size="25" text-anchor="middle" textLength="15.6" lengthAdjust="spacingAndGlyphs">13</text><circle cx="1214.4" cy="1807.6" r="4.1" stroke-width="2.6"/><line x1="1126.3" y1="1818.8" x2="1126.3" y2="1941.5" stroke-width="1.5"/><line x1="1302.5" y1="1818.8" x2="1302.5" y2="1941.5" stroke-width="1.5"/><line x1="1133.1" y1="1818.8" x2="1133.1" y2="1941.5" stroke-width="1.1"/><line x1="1295.8" y1="1818.8" x2="1295.8" y2="1941.5" stroke-width="1.1"/><line x1="1126.3" y1="1877.8" x2="1302.5" y2="1877.8" stroke-width="2.4"/><line x1="1126.3" y1="1941.5" x2="1302.5" y2="1941.5" stroke-width="2.4"/><circle cx="1173.1" cy="1907.6" r="10.2" stroke-width="1.6"/><circle cx="1173.1" cy="1907.6" r="5.8" stroke-width="1.6"/><path d="M1133.1 1941.5 L1126.3 1953.4 L1126.3 2130.7 L1302.5 2130.7 L1302.5 1953.4 L1295.8 1941.5" stroke-width="1.8"/><line x1="1126.3" y1="1953.4" x2="1302.5" y2="1953.4" stroke-width="1.2"/><line x1="1138.1" y1="2130.7" x2="1138.1" y2="2139.8" stroke-width="1.2"/><line x1="1290.7" y1="2130.7" x2="1290.7" y2="2139.8" stroke-width="1.2"/><line x1="1138.1" y1="2139.8" x2="1290.7" y2="2139.8" stroke-width="1.2"/><line x1="1168.6" y1="2130.7" x2="1168.6" y2="2139.8" stroke-width="1"/><line x1="1183.9" y1="2130.7" x2="1183.9" y2="2139.8" stroke-width="1"/><line x1="1244.9" y1="2130.7" x2="1244.9" y2="2139.8" stroke-width="1"/><line x1="1259.2" y1="2130.7" x2="1259.2" y2="2139.8" stroke-width="1"/><circle cx="1214.4" cy="2041.5" r="75.3" stroke-width="2.4"/><circle cx="1214.4" cy="2041.5" r="69.5" stroke-width="1.4"/><path d="M1242.3 2093.9 A59.3 59.3 0 1 1 1209.2 1982.4 L1248.3 1992.4 L1270.2 2021.2 A59.3 59.3 0 0 1 1259.9 2079.7 L1242.3 2093.9 Z" stroke-width="1.4"/><line x1="1187.3" y1="2094.1" x2="1211" y2="2094.1" stroke-width="1.2"/><line x1="1217.8" y1="2094.1" x2="1241.5" y2="2094.1" stroke-width="1.2"/><circle cx="1214.4" cy="2041.5" r="24.7" stroke-width="2.8" fill="#fff"/><circle cx="1214.4" cy="2041.5" r="21" stroke-width="1.3"/><line x1="1212.4" y1="2066.9" x2="1212.4" y2="2099.2" stroke-width="1.2"/><line x1="1216.4" y1="2066.9" x2="1216.4" y2="2099.2" stroke-width="1.2"/><line x1="1214.4" y1="2009.3" x2="1214.4" y2="2017.8" stroke-width="1.2"/><circle cx="1214.4" cy="2005.9" r="2.7" stroke-width="1.2"/><circle cx="1249" cy="1966.9" r="11.9" stroke-width="2.4" fill="#fff"/><circle cx="1249" cy="1966.9" r="5.8" stroke-width="1.6"/><circle cx="1249" cy="1966.9" r="9.2" stroke-width="1.1"/><circle cx="1139.8" cy="2005.9" r="11.9" stroke-width="2.4" fill="#fff"/><circle cx="1139.8" cy="2005.9" r="5.8" stroke-width="1.6"/><circle cx="1139.8" cy="2005.9" r="9.2" stroke-width="1.1"/><circle cx="1290" cy="2077.8" r="11.9" stroke-width="2.4" fill="#fff"/><circle cx="1290" cy="2077.8" r="5.8" stroke-width="1.6"/><circle cx="1290" cy="2077.8" r="9.2" stroke-width="1.1"/><circle cx="1180.5" cy="2116.1" r="11.9" stroke-width="2.4" fill="#fff"/><circle cx="1180.5" cy="2116.1" r="5.8" stroke-width="1.6"/><circle cx="1180.5" cy="2116.1" r="9.2" stroke-width="1.1"/><circle cx="1141.5" cy="1968.6" r="4.7" stroke-width="1.4"/><circle cx="1288.3" cy="1968.6" r="4.7" stroke-width="1.4"/><circle cx="1141.5" cy="2115.1" r="4.7" stroke-width="1.4"/><circle cx="1288.3" cy="2115.1" r="4.7" stroke-width="1.4"/><path d="M980.5 1925.3 L1083.9 1925.3 L1289 2108.3" stroke-width="1.2"/><text class="ck" x="977.1" y="1919.5" font-size="25" textLength="72.9" lengthAdjust="spacingAndGlyphs">馬達凸圓</text><text class="ct" x="1051" y="1919.5" font-size="26" textLength="31.2" lengthAdjust="spacingAndGlyphs">Ø50</text><path d="M994.1 2129.7 L1082.2 2129.7 L1250 2017.8" stroke-width="1.2"/><text class="ck" x="995.8" y="2122.9" font-size="25" textLength="54.2" lengthAdjust="spacingAndGlyphs">入力軸</text><text class="ct" x="1051" y="2122.9" font-size="26" textLength="29.8" lengthAdjust="spacingAndGlyphs">Ø14</text><path d="M1407.6 1926.3 L1328 1926.3 L1270.3 1989" stroke-width="1.2"/><text class="ct" x="1336.4" y="1921.2" font-size="26" textLength="71.2" lengthAdjust="spacingAndGlyphs">4-M5<tspan class="tri">▽</tspan>12</text><path d="M1402.5 2162.5 L1314.4 2162.5 L1133.1 1944.9" stroke-width="1.2"/><text class="ct" x="1322.9" y="2156.8" font-size="26" textLength="79.7" lengthAdjust="spacingAndGlyphs">P.C.DØ70</text></g>
<g id="d5"><line x1="2273.8" y1="1256.4" x2="2273.8" y2="1657.3" stroke-width="1.2" stroke-dasharray="26 5 5 5"/><line x1="2020.9" y1="1459.3" x2="2518.9" y2="1459.3" stroke-width="1.2" stroke-dasharray="26 5 5 5"/><path d="M2122.9 1296.6 L2425.9 1296.6 Q2436.9 1296.6 2436.9 1307.6 L2436.9 1370.9 Q2436.9 1384.9 2450.9 1384.9 L2502.3 1384.9 Q2508.3 1384.9 2508.3 1390.9 L2508.3 1527.3 Q2508.3 1533.3 2502.3 1533.3 L2450.9 1533.3 Q2436.9 1533.3 2436.9 1547.3 L2436.9 1610.6 Q2436.9 1621.6 2425.9 1621.6 L2122.9 1621.6 Q2111.9 1621.6 2111.9 1610.6 L2111.9 1307.6 Q2111.9 1296.6 2122.9 1296.6 Z" stroke-width="1.6"/><circle cx="2136.7" cy="1321" r="12" stroke-width="1.6"/><path d="M2111.6 1397.6 A173.6 173.6 0 0 1 2137.5 1351.8" stroke-width="1.3"/><path d="M2167.5 1322 A173.6 173.6 0 0 1 2213.5 1296.5" stroke-width="1.3"/><path d="M2137.5 1351.8 A23 23 0 0 0 2167.5 1322" stroke-width="1.3"/><circle cx="2411.8" cy="1321" r="12" stroke-width="1.6"/><path d="M2334.7 1296.7 A173.6 173.6 0 0 1 2380.5 1322.3" stroke-width="1.3"/><path d="M2410.5 1352.2 A173.6 173.6 0 0 1 2436.3 1398" stroke-width="1.3"/><path d="M2380.5 1322.3 A23 23 0 0 0 2410.5 1352.2" stroke-width="1.3"/><circle cx="2136.7" cy="1597.2" r="12" stroke-width="1.6"/><path d="M2213.2 1622 A173.6 173.6 0 0 1 2167.3 1596.4" stroke-width="1.3"/><path d="M2137.3 1566.5 A173.6 173.6 0 0 1 2111.5 1520.8" stroke-width="1.3"/><path d="M2167.3 1596.4 A23 23 0 0 0 2137.3 1566.5" stroke-width="1.3"/><circle cx="2411.8" cy="1597.2" r="12" stroke-width="1.6"/><path d="M2436.4 1520.3 A173.6 173.6 0 0 1 2410.7 1566.2" stroke-width="1.3"/><path d="M2380.7 1596.1 A173.6 173.6 0 0 1 2334.9 1621.8" stroke-width="1.3"/><path d="M2410.7 1566.2 A23 23 0 0 0 2380.7 1596.1" stroke-width="1.3"/><circle cx="2273.8" cy="1459.3" r="160.8" stroke-width="2.6"/><circle cx="2273.8" cy="1459.3" r="142.8" stroke-width="2.6"/><circle cx="2273.8" cy="1459.3" r="130" stroke-width="1.3" stroke-dasharray="14 6"/><circle cx="2273.8" cy="1459.3" r="120.3" stroke-width="2.6"/><circle cx="2273.8" cy="1459.3" r="115.7" stroke-width="1.3"/><circle cx="2273.8" cy="1459.3" r="86.4" stroke-width="3.2"/><circle cx="2273.8" cy="1459.3" r="81.2" stroke-width="1.2"/><circle cx="2273.8" cy="1459.3" r="77.4" stroke-width="1.6"/><circle cx="2273.8" cy="1329.3" r="5.3" stroke-width="1.5" fill="#fff"/><line x1="2271.3" y1="1329.3" x2="2276.3" y2="1329.3" stroke-width="0.9"/><line x1="2273.8" y1="1326.8" x2="2273.8" y2="1331.8" stroke-width="0.9"/><circle cx="2386.4" cy="1394.3" r="5.3" stroke-width="1.5" fill="#fff"/><line x1="2383.9" y1="1394.3" x2="2388.9" y2="1394.3" stroke-width="0.9"/><line x1="2386.4" y1="1391.8" x2="2386.4" y2="1396.8" stroke-width="0.9"/><circle cx="2386.4" cy="1524.3" r="5.3" stroke-width="1.5" fill="#fff"/><line x1="2383.9" y1="1524.3" x2="2388.9" y2="1524.3" stroke-width="0.9"/><line x1="2386.4" y1="1521.8" x2="2386.4" y2="1526.8" stroke-width="0.9"/><circle cx="2273.8" cy="1589.3" r="5.3" stroke-width="1.5" fill="#fff"/><line x1="2271.3" y1="1589.3" x2="2276.3" y2="1589.3" stroke-width="0.9"/><line x1="2273.8" y1="1586.8" x2="2273.8" y2="1591.8" stroke-width="0.9"/><circle cx="2161.2" cy="1524.3" r="5.3" stroke-width="1.5" fill="#fff"/><line x1="2158.7" y1="1524.3" x2="2163.7" y2="1524.3" stroke-width="0.9"/><line x1="2161.2" y1="1521.8" x2="2161.2" y2="1526.8" stroke-width="0.9"/><circle cx="2161.2" cy="1394.3" r="5.3" stroke-width="1.5" fill="#fff"/><line x1="2158.7" y1="1394.3" x2="2163.7" y2="1394.3" stroke-width="0.9"/><line x1="2161.2" y1="1391.8" x2="2161.2" y2="1396.8" stroke-width="0.9"/><circle cx="2144.9" cy="1459.3" r="6" stroke-width="1.6" fill="#fff"/><path d="M2144.9 1459.3 L2144.9 1453.3 A6 6 0 0 1 2151 1459.3 Z" fill="#2b2b2b" stroke="none"/><path d="M2144.9 1459.3 L2144.9 1465.3 A6 6 0 0 1 2138.9 1459.3 Z" fill="#2b2b2b" stroke="none"/><circle cx="2404.2" cy="1459.3" r="6" stroke-width="1.6" fill="#fff"/><path d="M2404.2 1459.3 L2404.2 1453.3 A6 6 0 0 1 2410.3 1459.3 Z" fill="#2b2b2b" stroke="none"/><path d="M2404.2 1459.3 L2404.2 1465.3 A6 6 0 0 1 2398.2 1459.3 Z" fill="#2b2b2b" stroke="none"/><circle cx="2386.2" cy="1309.7" r="6" stroke-width="1.6" fill="#fff"/><path d="M2386.2 1309.7 L2386.2 1303.7 A6 6 0 0 1 2392.2 1309.7 Z" fill="#2b2b2b" stroke="none"/><path d="M2386.2 1309.7 L2386.2 1315.7 A6 6 0 0 1 2380.2 1309.7 Z" fill="#2b2b2b" stroke="none"/><circle cx="2161.1" cy="1608.5" r="6" stroke-width="1.6" fill="#fff"/><path d="M2161.1 1608.5 L2161.1 1602.5 A6 6 0 0 1 2167.1 1608.5 Z" fill="#2b2b2b" stroke="none"/><path d="M2161.1 1608.5 L2161.1 1614.5 A6 6 0 0 1 2155.1 1608.5 Z" fill="#2b2b2b" stroke="none"/><rect x="2416.6" y="1432.6" width="3.4" height="53.4" stroke-width="1.3" fill="#fff"/><path d="M2436.9 1384.9 L2436.9 1409.3 C2443.7 1428.1 2451.2 1439.4 2463.2 1446.9" stroke-width="1.3"/><path d="M2436.9 1533.3 L2436.9 1508.9 C2443.7 1490.1 2451.2 1478.8 2463.2 1471.3" stroke-width="1.3"/><path d="M2439.9 1390.5 C2445.6 1413.1 2451.2 1435.6 2462.5 1445" stroke-width="1.2"/><path d="M2439.9 1527.7 C2445.6 1505.1 2451.2 1482.6 2462.5 1473.2" stroke-width="1.2"/><line x1="2421.1" y1="1453.6" x2="2445.6" y2="1453.6" stroke-width="1.3"/><line x1="2421.1" y1="1465.7" x2="2445.6" y2="1465.7" stroke-width="1.3"/><rect x="2445.6" y="1451.8" width="16.9" height="15.8" stroke-width="1.3" fill="#fff"/><path d="M2463.2 1450.6 L2463.2 1430 Q2463.2 1426.2 2467 1426.2 L2488.8 1426.2 L2488.8 1497.6 L2481.3 1497.6 L2481.3 1491.2 L2471.9 1491.2 L2471.9 1486.3 Q2463.2 1486.3 2463.2 1480.7 L2463.2 1469.4" stroke-width="1.4"/><line x1="2485" y1="1428.1" x2="2485" y2="1495.7" stroke-width="2.2"/><line x1="2467" y1="1431.1" x2="2481.3" y2="1431.1" stroke-width="1.2"/><line x1="2467" y1="1431.1" x2="2467" y2="1446.9" stroke-width="1.2"/><line x1="2467" y1="1446.9" x2="2481.3" y2="1446.9" stroke-width="1.2"/><line x1="2467" y1="1472.4" x2="2477.5" y2="1472.4" stroke-width="1.2"/><line x1="2467" y1="1472.4" x2="2467" y2="1480.7" stroke-width="1.2"/><line x1="2467" y1="1480.7" x2="2477.5" y2="1480.7" stroke-width="1.2"/><line x1="2477.5" y1="1480.7" x2="2477.5" y2="1488.2" stroke-width="1.2"/><circle cx="2470.8" cy="1441.2" r="2.6" stroke-width="1.6"/><line x1="2111.9" y1="1180.1" x2="2111.9" y2="1296.6" stroke-width="1.2"/><line x1="2508.3" y1="1180.1" x2="2508.3" y2="1384.9" stroke-width="1.2"/><line x1="2111.9" y1="1197" x2="2508.3" y2="1197" stroke-width="1.2"/><path d="M2111.9 1197 L2122.4 1195.5 L2122.4 1198.5 Z" fill="#2b2b2b" stroke="none"/><path d="M2508.3 1197 L2497.8 1198.5 L2497.8 1195.5 Z" fill="#2b2b2b" stroke="none"/><text class="ct" x="2311" y="1190.6" font-size="26" text-anchor="middle" textLength="27.1" lengthAdjust="spacingAndGlyphs">159</text><line x1="2436.9" y1="1223.3" x2="2436.9" y2="1296.6" stroke-width="1.2"/><line x1="2111.9" y1="1240.9" x2="2436.9" y2="1240.9" stroke-width="1.2"/><path d="M2111.9 1240.9 L2122.4 1239.4 L2122.4 1242.4 Z" fill="#2b2b2b" stroke="none"/><path d="M2436.9 1240.9 L2426.4 1242.4 L2426.4 1239.4 Z" fill="#2b2b2b" stroke="none"/><text class="ct" x="2273.8" y="1234.6" font-size="26" text-anchor="middle" textLength="27.1" lengthAdjust="spacingAndGlyphs">130</text><line x1="2468.1" y1="1260.9" x2="2468.1" y2="1443.1" stroke-width="1.2"/><line x1="2273.8" y1="1278.5" x2="2468.1" y2="1278.5" stroke-width="1.2"/><path d="M2273.8 1278.5 L2284.3 1277 L2284.3 1280 Z" fill="#2b2b2b" stroke="none"/><path d="M2468.1 1278.5 L2457.6 1280 L2457.6 1277 Z" fill="#2b2b2b" stroke="none"/><text class="ct" x="2371.2" y="1272.1" font-size="26" text-anchor="middle" textLength="18.8" lengthAdjust="spacingAndGlyphs">78</text><line x1="2508.3" y1="1384.9" x2="2601.5" y2="1384.9" stroke-width="1.2"/><line x1="2508.3" y1="1533.3" x2="2601.5" y2="1533.3" stroke-width="1.2"/><line x1="2584.6" y1="1384.9" x2="2584.6" y2="1533.3" stroke-width="1.2"/><path d="M2584.6 1384.9 L2586.1 1395.4 L2583.1 1395.4 Z" fill="#2b2b2b" stroke="none"/><path d="M2584.6 1533.3 L2583.1 1522.8 L2586.1 1522.8 Z" fill="#2b2b2b" stroke="none"/><text class="ct" x="2580.1" y="1459.3" font-size="26" text-anchor="middle" transform="rotate(-90 2580.1 1459.3)" textLength="18.8" lengthAdjust="spacingAndGlyphs">60</text><line x1="2477.5" y1="1441.2" x2="2560.9" y2="1441.2" stroke-width="1.2"/><line x1="2477.5" y1="1476.9" x2="2560.9" y2="1476.9" stroke-width="1.2"/><line x1="2545.2" y1="1416.8" x2="2545.2" y2="1501.4" stroke-width="1.2"/><path d="M2545.2 1441.2 L2543.7 1430.7 L2546.7 1430.7 Z" fill="#2b2b2b" stroke="none"/><path d="M2545.2 1476.9 L2546.7 1487.4 L2543.7 1487.4 Z" fill="#2b2b2b" stroke="none"/><text class="ct" x="2540.7" y="1459.3" font-size="26" text-anchor="middle" transform="rotate(-90 2540.7 1459.3)" textLength="16.9" lengthAdjust="spacingAndGlyphs">14</text><path d="M1953.3 1293.9 L2066.8 1293.9 L2183.6 1417.6" stroke-width="1.2"/><text class="ct" x="1948.4" y="1285.3" font-size="26" textLength="101.5" lengthAdjust="spacingAndGlyphs">6-M5<tspan class="tri">▽</tspan>8 EQS</text><path d="M1909.3 1374.7 L2066.8 1374.7 L2167.5 1483.7" stroke-width="1.2"/><text class="ct" x="1900.7" y="1362.3" font-size="26" textLength="41.3" lengthAdjust="spacingAndGlyphs">2-Ø5</text><text class="ct" x="1943.1" y="1349.2" font-size="17" textLength="39.1" lengthAdjust="spacingAndGlyphs">+0.012</text><text class="ct" x="1949.5" y="1368" font-size="17" textLength="5.6" lengthAdjust="spacingAndGlyphs">0</text><text class="ct" x="1983.3" y="1362.3" font-size="26" textLength="62" lengthAdjust="spacingAndGlyphs"><tspan class="tri">▽</tspan>6 pin</text><path d="M1986.4 1670.5 L2085.9 1670.5 L2160 1563.4" stroke-width="1.2"/><text class="ct" x="1982.2" y="1664.1" font-size="26" textLength="88.7" lengthAdjust="spacingAndGlyphs">4-Ø9 THRU</text><path d="M1973.9 1733.2 L2105.5 1733.2 L2176.9 1576.5" stroke-width="1.2"/><text class="ct" x="1967.2" y="1720.5" font-size="26" textLength="41.3" lengthAdjust="spacingAndGlyphs">2-Ø5</text><text class="ct" x="2009.7" y="1707.3" font-size="17" textLength="38.7" lengthAdjust="spacingAndGlyphs">+0.012</text><text class="ct" x="2016" y="1726.9" font-size="17" textLength="5.6" lengthAdjust="spacingAndGlyphs">0</text><text class="ct" x="2049.1" y="1720.5" font-size="26" textLength="36.8" lengthAdjust="spacingAndGlyphs">THRU</text><path d="M2505.7 1733.2 L2404.2 1733.2 L2208.1 1319.1" stroke-width="1.2"/><text class="ct" x="2419.3" y="1726.9" font-size="26" textLength="88.3" lengthAdjust="spacingAndGlyphs">P.C.DØ104</text><path d="M2675.9 1323.6 L2552.7 1323.6 L2470 1442.4" stroke-width="1.2"/><text class="ct" x="2550.8" y="1314.2" font-size="30" textLength="109" lengthAdjust="spacingAndGlyphs">2-M2.5<tspan class="tri">▽</tspan>4</text><path d="M2036 1459.3 A237.9 237.9 0 0 0 2067.8 1578.2" stroke-width="1.2"/><path d="M2036 1459.3 L2037.5 1469.8 L2034.5 1469.8 Z" fill="#2b2b2b" stroke="none"/><path d="M2067.8 1578.2 L2061.3 1569.9 L2063.9 1568.4 Z" fill="#2b2b2b" stroke="none"/><line x1="2273.8" y1="1459.3" x2="2134.5" y2="1539.7" stroke-width="1.2" stroke-dasharray="26 5 5 5"/><line x1="2134.5" y1="1539.7" x2="2054.2" y2="1586.1" stroke-width="1.2"/><text class="ct" x="2057.4" y="1520.2" font-size="24" text-anchor="middle" transform="rotate(68 2057.4 1520.2)" textLength="24" lengthAdjust="spacingAndGlyphs">30°</text></g>
<g id="d6"><path d="M2832.7 1296.8 L3138.1 1296.8 Q3147.9 1296.8 3147.9 1306.6 L3147.9 1359.8 Q3147.9 1372.9 3160.9 1373.6" stroke-width="1.6"/><path d="M2832.7 1622.8 L3138.1 1622.8 Q3147.9 1622.8 3147.9 1613 L3147.9 1559.1 Q3147.9 1546 3160.9 1545.3" stroke-width="1.6"/><path d="M2832.7 1296.8 Q2822.9 1296.8 2822.9 1306.6 L2822.9 1613 Q2822.9 1622.8 2832.7 1622.8" stroke-width="1.6"/><line x1="3069.5" y1="1296.8" x2="3069.5" y2="1622.8" stroke-width="1.3"/><path d="M2911.1 1296.8 L2911.1 1372.9 Q2911.1 1385 2899 1385 L2822.9 1385" stroke-width="1.3"/><path d="M2911.1 1622.8 L2911.1 1546 Q2911.1 1533.6 2899 1533.6 L2822.9 1533.6" stroke-width="1.3"/><circle cx="2847.4" cy="1321.3" r="11.8" stroke-width="1.6"/><circle cx="3123.4" cy="1321.3" r="11.8" stroke-width="1.6"/><circle cx="2847.4" cy="1596.6" r="11.8" stroke-width="1.6"/><circle cx="3123.4" cy="1596.6" r="11.8" stroke-width="1.6"/><circle cx="2872.9" cy="1309.2" r="5.9" stroke-width="1.6"/><circle cx="3098.2" cy="1608.7" r="5.9" stroke-width="1.6"/><line x1="2803.3" y1="1459.4" x2="3232.8" y2="1459.4" stroke-width="1.2" stroke-dasharray="28 6 6 6"/><line x1="2986.2" y1="1259.2" x2="2986.2" y2="1673.4" stroke-width="1.2" stroke-dasharray="28 6 6 6"/><line x1="3145.6" y1="1259.2" x2="3145.6" y2="1657" stroke-width="1.2" stroke-dasharray="28 6 6 6"/><path d="M2994.7 1381.7 L2994.7 1371.3" stroke-width="1.2"/><path d="M2977.7 1381.7 L2977.7 1371.3" stroke-width="1.2"/><circle cx="2986.2" cy="1371.3" r="9.1" stroke-width="2.4" fill="#fff"/><circle cx="2986.2" cy="1371.3" r="4.6" stroke-width="1.2"/><circle cx="2986.2" cy="1371.3" r="1.6" stroke-width="1"/><path d="M3047.2 1410.5 L3054.5 1403.1" stroke-width="1.2"/><path d="M3035.1 1398.5 L3042.5 1391.1" stroke-width="1.2"/><circle cx="3048.5" cy="1397.1" r="9.1" stroke-width="2.4" fill="#fff"/><circle cx="3048.5" cy="1397.1" r="4.6" stroke-width="1.2"/><circle cx="3048.5" cy="1397.1" r="1.6" stroke-width="1"/><path d="M3063.9 1467.9 L3074.4 1467.9" stroke-width="1.2"/><path d="M3063.9 1451 L3074.4 1451" stroke-width="1.2"/><circle cx="3074.4" cy="1459.4" r="9.1" stroke-width="2.4" fill="#fff"/><circle cx="3074.4" cy="1459.4" r="4.6" stroke-width="1.2"/><circle cx="3074.4" cy="1459.4" r="1.6" stroke-width="1"/><path d="M3035.1 1520.4 L3042.5 1527.8" stroke-width="1.2"/><path d="M3047.2 1508.4 L3054.5 1515.8" stroke-width="1.2"/><circle cx="3048.5" cy="1521.8" r="9.1" stroke-width="2.4" fill="#fff"/><circle cx="3048.5" cy="1521.8" r="4.6" stroke-width="1.2"/><circle cx="3048.5" cy="1521.8" r="1.6" stroke-width="1"/><path d="M2977.7 1537.2 L2977.7 1547.6" stroke-width="1.2"/><path d="M2994.7 1537.2 L2994.7 1547.6" stroke-width="1.2"/><circle cx="2986.2" cy="1547.6" r="9.1" stroke-width="2.4" fill="#fff"/><circle cx="2986.2" cy="1547.6" r="4.6" stroke-width="1.2"/><circle cx="2986.2" cy="1547.6" r="1.6" stroke-width="1"/><path d="M2925.2 1508.4 L2917.8 1515.8" stroke-width="1.2"/><path d="M2937.2 1520.4 L2929.8 1527.8" stroke-width="1.2"/><circle cx="2923.8" cy="1521.8" r="9.1" stroke-width="2.4" fill="#fff"/><circle cx="2923.8" cy="1521.8" r="4.6" stroke-width="1.2"/><circle cx="2923.8" cy="1521.8" r="1.6" stroke-width="1"/><path d="M2908.5 1451 L2898 1451" stroke-width="1.2"/><path d="M2908.5 1467.9 L2898 1467.9" stroke-width="1.2"/><circle cx="2898" cy="1459.4" r="9.1" stroke-width="2.4" fill="#fff"/><circle cx="2898" cy="1459.4" r="4.6" stroke-width="1.2"/><circle cx="2898" cy="1459.4" r="1.6" stroke-width="1"/><path d="M2937.2 1398.5 L2929.8 1391.1" stroke-width="1.2"/><path d="M2925.2 1410.5 L2917.8 1403.1" stroke-width="1.2"/><circle cx="2923.8" cy="1397.1" r="9.1" stroke-width="2.4" fill="#fff"/><circle cx="2923.8" cy="1397.1" r="4.6" stroke-width="1.2"/><circle cx="2923.8" cy="1397.1" r="1.6" stroke-width="1"/><circle cx="2986.2" cy="1459.4" r="80" stroke-width="1.6" fill="#fff"/><line x1="2906.2" y1="1459.4" x2="3066.2" y2="1459.4" stroke-width="1.2" stroke-dasharray="28 6 6 6"/><line x1="2986.2" y1="1379.4" x2="2986.2" y2="1539.5" stroke-width="1.2" stroke-dasharray="28 6 6 6"/><rect x="3069.5" y="1385" width="150.2" height="148.6" stroke-width="1.6" rx="7" fill="#fff"/><circle cx="3067.8" cy="1459.4" r="4.6" stroke-width="1.6"/><circle cx="3067.8" cy="1459.4" r="2.3" stroke-width="1"/><line x1="3069.5" y1="1459.4" x2="3232.8" y2="1459.4" stroke-width="1.2" stroke-dasharray="28 6 6 6"/><line x1="3145.6" y1="1359.8" x2="3145.6" y2="1559.1" stroke-width="1.2" stroke-dasharray="28 6 6 6"/><path d="M3145.6 1372.9 Q3151.1 1372.9 3160.9 1373.6" stroke-width="1.3"/><path d="M3145.6 1546 Q3151.1 1546 3160.9 1545.3" stroke-width="1.3"/><circle cx="3145.6" cy="1459.4" r="85.6" stroke-width="1.3" stroke-dasharray="14 6"/><circle cx="3145.6" cy="1459.4" r="63.7" stroke-width="2.4"/><path d="M3099.7 1438.1 A50.6 50.6 0 0 1 3187 1430.4 L3195.2 1459.4 L3187 1488.5 A50.6 50.6 0 0 1 3101.7 1484.8" stroke-width="1.5"/><line x1="3099.7" y1="1438.1" x2="3101.7" y2="1484.8" stroke-width="1.5"/><rect x="3098.9" y="1430.1" width="5.9" height="5.9" stroke-width="1"/><circle cx="3145.6" cy="1459.4" r="22.2" stroke-width="2.8" fill="#fff"/><circle cx="3145.6" cy="1459.4" r="18" stroke-width="1.3"/><circle cx="3145.6" cy="1459.4" r="14.7" stroke-width="1.5"/><line x1="3102.1" y1="1457.2" x2="3123.4" y2="1457.2" stroke-width="1.6"/><line x1="3102.1" y1="1461.7" x2="3123.4" y2="1461.7" stroke-width="1.6"/><line x1="3168.1" y1="1459.4" x2="3177.2" y2="1459.4" stroke-width="1.6"/><circle cx="3106.4" cy="1396.4" r="9.8" stroke-width="1.6" fill="#fff"/><circle cx="3106.4" cy="1396.4" r="4.9" stroke-width="1.4"/><circle cx="3183.8" cy="1396.4" r="9.8" stroke-width="1.6" fill="#fff"/><circle cx="3183.8" cy="1396.4" r="4.9" stroke-width="1.4"/><circle cx="3106.4" cy="1522.5" r="9.8" stroke-width="1.6" fill="#fff"/><circle cx="3106.4" cy="1522.5" r="4.9" stroke-width="1.4"/><circle cx="3183.8" cy="1522.5" r="9.8" stroke-width="1.6" fill="#fff"/><circle cx="3183.8" cy="1522.5" r="4.9" stroke-width="1.4"/><circle cx="3083.5" cy="1397.4" r="3.9" stroke-width="1.3"/><circle cx="3207.6" cy="1397.4" r="3.9" stroke-width="1.3"/><circle cx="3083.5" cy="1521.5" r="3.9" stroke-width="1.3"/><circle cx="3207.6" cy="1521.5" r="3.9" stroke-width="1.3"/><line x1="3106.4" y1="1522.5" x2="3183.8" y2="1396.4" stroke-width="1.1"/><line x1="3083.5" y1="1397.4" x2="3125" y2="1439.9" stroke-width="1.1"/><line x1="2847.4" y1="1224.3" x2="2847.4" y2="1321.3" stroke-width="1.2"/><line x1="3123.4" y1="1224.3" x2="3123.4" y2="1321.3" stroke-width="1.2"/><line x1="2847.4" y1="1241.6" x2="3123.4" y2="1241.6" stroke-width="1.2"/><path d="M2847.4 1241.6 L2857.9 1240.1 L2857.9 1243.1 Z" fill="#2b2b2b" stroke="none"/><path d="M3123.4 1241.6 L3112.9 1243.1 L3112.9 1240.1 Z" fill="#2b2b2b" stroke="none"/><text class="ct" x="2985.2" y="1235.7" font-size="26" text-anchor="middle" textLength="26.8" lengthAdjust="spacingAndGlyphs">110</text><line x1="2986.2" y1="1276.6" x2="3145.6" y2="1276.6" stroke-width="1.2"/><path d="M2986.2 1276.6 L2996.7 1275.1 L2996.7 1278.1 Z" fill="#2b2b2b" stroke="none"/><path d="M3145.6 1276.6 L3135.1 1278.1 L3135.1 1275.1 Z" fill="#2b2b2b" stroke="none"/><text class="ct" x="3065.2" y="1270.7" font-size="26" text-anchor="middle" textLength="18.3" lengthAdjust="spacingAndGlyphs">64</text><line x1="2749.4" y1="1309.2" x2="2872.9" y2="1309.2" stroke-width="1.2"/><line x1="2749.4" y1="1608.7" x2="3098.2" y2="1608.7" stroke-width="1.2"/><line x1="2766.7" y1="1309.2" x2="2766.7" y2="1608.7" stroke-width="1.2"/><path d="M2766.7 1309.2 L2768.2 1319.7 L2765.2 1319.7 Z" fill="#2b2b2b" stroke="none"/><path d="M2766.7 1608.7 L2765.2 1598.2 L2768.2 1598.2 Z" fill="#2b2b2b" stroke="none"/><text class="ct" x="2762.5" y="1459.4" font-size="26" text-anchor="middle" transform="rotate(-90 2762.5 1459.4)" textLength="26.1" lengthAdjust="spacingAndGlyphs">120</text><line x1="2787" y1="1321.3" x2="2847.4" y2="1321.3" stroke-width="1.2"/><line x1="2787" y1="1596.6" x2="2847.4" y2="1596.6" stroke-width="1.2"/><line x1="2804.3" y1="1321.3" x2="2804.3" y2="1596.6" stroke-width="1.2"/><path d="M2804.3 1321.3 L2805.8 1331.8 L2802.8 1331.8 Z" fill="#2b2b2b" stroke="none"/><path d="M2804.3 1596.6 L2802.8 1586.1 L2805.8 1586.1 Z" fill="#2b2b2b" stroke="none"/><text class="ct" x="2799.4" y="1459.4" font-size="26" text-anchor="middle" transform="rotate(-90 2799.4 1459.4)" textLength="26.1" lengthAdjust="spacingAndGlyphs">110</text><line x1="2872.9" y1="1309.2" x2="2872.9" y2="1702.8" stroke-width="1.2"/><line x1="3098.2" y1="1608.7" x2="3098.2" y2="1702.8" stroke-width="1.2"/><line x1="2872.9" y1="1686.4" x2="3098.2" y2="1686.4" stroke-width="1.2"/><path d="M2872.9 1686.4 L2883.4 1684.9 L2883.4 1687.9 Z" fill="#2b2b2b" stroke="none"/><path d="M3098.2 1686.4 L3087.7 1687.9 L3087.7 1684.9 Z" fill="#2b2b2b" stroke="none"/><text class="ct" x="2985.5" y="1679.9" font-size="26" text-anchor="middle" textLength="18.3" lengthAdjust="spacingAndGlyphs">90</text><line x1="3219.7" y1="1385" x2="3280.1" y2="1385" stroke-width="1.2"/><line x1="3219.7" y1="1533.6" x2="3280.1" y2="1533.6" stroke-width="1.2"/><line x1="3263.8" y1="1385" x2="3263.8" y2="1533.6" stroke-width="1.2"/><path d="M3263.8 1385 L3265.3 1395.5 L3262.3 1395.5 Z" fill="#2b2b2b" stroke="none"/><path d="M3263.8 1533.6 L3262.3 1523.1 L3265.3 1523.1 Z" fill="#2b2b2b" stroke="none"/><text class="ct" x="3258.2" y="1459.4" font-size="26" text-anchor="middle" transform="rotate(-90 3258.2 1459.4)" textLength="27.8" lengthAdjust="spacingAndGlyphs">□60</text><path d="M3358.5 1291.2 L3255.6 1291.2 L3105.4 1523.1" stroke-width="1.2"/><text class="ck" x="3257.3" y="1283.1" font-size="25" textLength="70.2" lengthAdjust="spacingAndGlyphs">馬達凸圓</text><text class="ct" x="3328.5" y="1283.1" font-size="26" textLength="32.7" lengthAdjust="spacingAndGlyphs">Ø50</text><path d="M3338.9 1322.3 L3264.8 1322.3 L3190.3 1420.3" stroke-width="1.2"/><text class="ct" x="3268.7" y="1316.7" font-size="26" textLength="71.9" lengthAdjust="spacingAndGlyphs">4-M4<tspan class="tri">▽</tspan>12</text><path d="M3347.1 1591.1 L3262.2 1591.1 L3076 1379.4" stroke-width="1.2"/><text class="ct" x="3267.1" y="1584.5" font-size="26" textLength="80" lengthAdjust="spacingAndGlyphs">P.C.DØ70</text><path d="M3343.8 1632.6 L3257.3 1632.6 L3120.1 1423.5" stroke-width="1.2"/><text class="ck" x="3260.5" y="1624.4" font-size="25" textLength="52.3" lengthAdjust="spacingAndGlyphs">入力軸</text><text class="ct" x="3314.4" y="1624.4" font-size="26" textLength="32" lengthAdjust="spacingAndGlyphs">Ø14</text></g>
<g id="d7"><line x1="2038.5" y1="1974.6" x2="2323.4" y2="1974.6" stroke-width="3"/><line x1="2323.4" y1="1974.6" x2="2559.8" y2="1974.6" stroke-width="1.2"/><line x1="2018.5" y1="2017.2" x2="2353.5" y2="2017.2" stroke-width="2.6"/><line x1="2353.5" y1="2017.2" x2="2515.2" y2="2017.2" stroke-width="1.2"/><line x1="2018.5" y1="2037.6" x2="2113.8" y2="2037.6" stroke-width="1.5"/><line x1="2249" y1="2037.6" x2="2415.7" y2="2037.6" stroke-width="1.5"/><line x1="2415.7" y1="2037.6" x2="2479" y2="2037.6" stroke-width="1.2"/><line x1="2018.5" y1="2073" x2="2106.8" y2="2073" stroke-width="1.8"/><line x1="2106.8" y1="2071.6" x2="2265.7" y2="2071.6" stroke-width="1.8"/><line x1="2265.7" y1="2073" x2="2559.8" y2="2073" stroke-width="1.6"/><line x1="2018.5" y1="2017.2" x2="2018.5" y2="2073" stroke-width="1.5"/><line x1="2031" y1="2037.6" x2="2031" y2="2073" stroke-width="1.3"/><line x1="2038.5" y1="1876.5" x2="2038.5" y2="2017.2" stroke-width="1.2"/><line x1="2047.7" y1="2017.2" x2="2047.7" y2="2037.6" stroke-width="1.2"/><line x1="2067" y1="2017.2" x2="2067" y2="2037.6" stroke-width="1.2"/><line x1="2113.8" y1="2017.2" x2="2113.8" y2="2037.6" stroke-width="1.3"/><line x1="2249" y1="2017.2" x2="2249" y2="2037.6" stroke-width="1.3"/><line x1="2323.4" y1="1876.5" x2="2323.4" y2="2017.2" stroke-width="1.2"/><line x1="2295" y1="2017.2" x2="2295" y2="2037.6" stroke-width="1.2"/><line x1="2315.9" y1="2017.2" x2="2315.9" y2="2037.6" stroke-width="1.2"/><line x1="2104" y1="1923.9" x2="2104" y2="2073" stroke-width="1.3" stroke-dasharray="10 5"/><line x1="2257.9" y1="1923.9" x2="2257.9" y2="2073" stroke-width="1.3" stroke-dasharray="10 5"/><line x1="2265.7" y1="2073" x2="2265.7" y2="2177.5" stroke-width="1.6"/><line x1="2272.1" y1="2073" x2="2272.1" y2="2177.5" stroke-width="1.2"/><line x1="2409.3" y1="2037.6" x2="2409.3" y2="2177.5" stroke-width="1.2"/><line x1="2415.7" y1="2037.6" x2="2415.7" y2="2177.5" stroke-width="1.6"/><line x1="2265.7" y1="2123.2" x2="2415.7" y2="2123.2" stroke-width="2.6"/><line x1="2265.7" y1="2177.5" x2="2415.7" y2="2177.5" stroke-width="1.8"/><line x1="2331.8" y1="2037.6" x2="2331.8" y2="2073" stroke-width="1.5"/><line x1="2359.1" y1="2037.6" x2="2359.1" y2="2073" stroke-width="1.3"/><line x1="2339.6" y1="2037.6" x2="2339.6" y2="2061.8" stroke-width="2"/><line x1="2341.5" y1="1981" x2="2341.5" y2="2192.9" stroke-width="1.2" stroke-dasharray="22 5 5 5"/><line x1="2193.2" y1="2091.1" x2="2322.9" y2="2091.1" stroke-width="1.2"/><line x1="2322.9" y1="2091.1" x2="2359.1" y2="2091.1" stroke-width="1.2" stroke-dasharray="10 5"/><line x1="2322.9" y1="2091.1" x2="2322.9" y2="2160.8" stroke-width="1.2" stroke-dasharray="10 5"/><line x1="2275.5" y1="2160.8" x2="2322.9" y2="2160.8" stroke-width="1.2" stroke-dasharray="10 5"/><line x1="2359.1" y1="2091.1" x2="2359.1" y2="2160.8" stroke-width="1.2" stroke-dasharray="10 5"/><line x1="2359.1" y1="2160.8" x2="2403.7" y2="2160.8" stroke-width="1.2" stroke-dasharray="10 5"/><line x1="2275.5" y1="2160.8" x2="2275.5" y2="2177.5" stroke-width="1.2" stroke-dasharray="10 5"/><line x1="2403.7" y1="2160.8" x2="2403.7" y2="2177.5" stroke-width="1.2" stroke-dasharray="10 5"/><line x1="2232.3" y1="2160.8" x2="2275.5" y2="2160.8" stroke-width="1.2"/><path d="M2353.5 1986.6 L2392 1986.6 L2392 2020 L2353.5 2020 L2353.5 2010.3 L2364.1 2010.3 L2364.1 1996.9 L2353.5 1996.9 Z" stroke-width="1.5"/><line x1="2381.4" y1="1986.6" x2="2381.4" y2="2020" stroke-width="1.2"/><line x1="2395.3" y1="1990.8" x2="2395.3" y2="2035.4" stroke-width="1.4"/><line x1="2392" y1="1990.8" x2="2396.7" y2="1990.8" stroke-width="1.2"/><line x1="2370.2" y1="2035.4" x2="2396.7" y2="2035.4" stroke-width="1.6"/><line x1="2396.7" y1="1990.8" x2="2396.7" y2="2035.4" stroke-width="1.2"/><path d="M2345.2 2017.2 L2345.2 2024.2 L2368.9 2024.2 L2368.9 2034 L2375.8 2034" stroke-width="1.3"/><line x1="2353.5" y1="2024.2" x2="2353.5" y2="2037.6" stroke-width="1.2"/><line x1="2361.3" y1="2024.2" x2="2361.3" y2="2037.6" stroke-width="1.2"/><path d="M2325.6 1989.4 Q2324.5 2003.3 2331.8 2003.3 L2370.2 2003.3" stroke-width="1.8"/><line x1="2359.1" y1="2000" x2="2371.6" y2="2000" stroke-width="1.2"/><line x1="2371.6" y1="2000" x2="2371.6" y2="2006.7" stroke-width="1.2"/><line x1="2359.1" y1="2006.7" x2="2371.6" y2="2006.7" stroke-width="1.2"/><circle cx="2325.1" cy="1990.8" r="2.2" stroke-width="1.8"/><line x1="2289.4" y1="1993.6" x2="2322.3" y2="1993.6" stroke-width="1.1"/><line x1="2038.5" y1="1893.8" x2="2323.4" y2="1893.8" stroke-width="1.2"/><path d="M2038.5 1893.8 L2049 1892.3 L2049 1895.3 Z" fill="#2b2b2b" stroke="none"/><path d="M2323.4 1893.8 L2312.9 1895.3 L2312.9 1892.3 Z" fill="#2b2b2b" stroke="none"/><text class="ct" x="2180.7" y="1887.6" font-size="27" text-anchor="middle" textLength="39" lengthAdjust="spacingAndGlyphs">Ø114</text><line x1="2104" y1="1939.2" x2="2257.9" y2="1939.2" stroke-width="1.2"/><path d="M2104 1939.2 L2114.5 1937.7 L2114.5 1940.7 Z" fill="#2b2b2b" stroke="none"/><path d="M2257.9 1939.2 L2247.4 1940.7 L2247.4 1937.7 Z" fill="#2b2b2b" stroke="none"/><text class="ck" x="2129.1" y="1932.2" font-size="26" textLength="72.5" lengthAdjust="spacingAndGlyphs">中空孔徑</text><text class="ct" x="2203" y="1932.2" font-size="27" textLength="29.3" lengthAdjust="spacingAndGlyphs">Ø62</text><line x1="2306.7" y1="1915.5" x2="2306.7" y2="2017.2" stroke-width="1.2"/><path d="M2306.7 1974.6 L2305.2 1964.1 L2308.2 1964.1 Z" fill="#2b2b2b" stroke="none"/><text class="ct" x="2300.6" y="1930.8" font-size="26" text-anchor="middle" transform="rotate(-90 2300.6 1930.8)" textLength="26.5" lengthAdjust="spacingAndGlyphs">7.5</text><path d="M2505.4 1930.3 L2381.4 1930.3 L2327 1988.5" stroke-width="1.2"/><text class="ct" x="2385.6" y="1923.9" font-size="30" textLength="108.7" lengthAdjust="spacingAndGlyphs">2-M2.5<tspan class="tri">▽</tspan>4</text><line x1="2541.7" y1="1974.6" x2="2541.7" y2="2073" stroke-width="1.2"/><path d="M2541.7 1974.6 L2543.2 1985.1 L2540.2 1985.1 Z" fill="#2b2b2b" stroke="none"/><path d="M2541.7 2073 L2540.2 2062.5 L2543.2 2062.5 Z" fill="#2b2b2b" stroke="none"/><text class="ct" x="2536.7" y="2024.2" font-size="26" text-anchor="middle" transform="rotate(-90 2536.7 2024.2)" textLength="36.2" lengthAdjust="spacingAndGlyphs">39.5</text><line x1="2500.7" y1="2017.2" x2="2500.7" y2="2073" stroke-width="1.2"/><path d="M2500.7 2017.2 L2502.2 2027.7 L2499.2 2027.7 Z" fill="#2b2b2b" stroke="none"/><path d="M2500.7 2073 L2499.2 2062.5 L2502.2 2062.5 Z" fill="#2b2b2b" stroke="none"/><text class="ct" x="2495.7" y="2045.1" font-size="26" text-anchor="middle" transform="rotate(-90 2495.7 2045.1)" textLength="36.2" lengthAdjust="spacingAndGlyphs">22.5</text><line x1="2458" y1="2037.6" x2="2458" y2="2073" stroke-width="1.2"/><path d="M2458 2037.6 L2459.5 2048.1 L2456.5 2048.1 Z" fill="#2b2b2b" stroke="none"/><path d="M2458 2073 L2456.5 2062.5 L2459.5 2062.5 Z" fill="#2b2b2b" stroke="none"/><text class="ct" x="2453" y="2054.9" font-size="26" text-anchor="middle" transform="rotate(-90 2453 2054.9)" textLength="36.2" lengthAdjust="spacingAndGlyphs">14.5</text><line x1="2415.7" y1="2177.5" x2="2559.8" y2="2177.5" stroke-width="1.2"/><line x1="2541.7" y1="2073" x2="2541.7" y2="2177.5" stroke-width="1.2"/><path d="M2541.7 2073 L2543.2 2083.5 L2540.2 2083.5 Z" fill="#2b2b2b" stroke="none"/><path d="M2541.7 2177.5 L2540.2 2167 L2543.2 2167 Z" fill="#2b2b2b" stroke="none"/><text class="ct" x="2536.7" y="2126" font-size="26" text-anchor="middle" transform="rotate(-90 2536.7 2126)" textLength="18.1" lengthAdjust="spacingAndGlyphs">42</text><line x1="2193.2" y1="2177.5" x2="2265.7" y2="2177.5" stroke-width="1.2"/><line x1="2210.8" y1="2091.1" x2="2210.8" y2="2177.5" stroke-width="1.2"/><path d="M2210.8 2091.1 L2212.3 2101.6 L2209.3 2101.6 Z" fill="#2b2b2b" stroke="none"/><path d="M2210.8 2177.5 L2209.3 2167 L2212.3 2167 Z" fill="#2b2b2b" stroke="none"/><text class="ct" x="2205.2" y="2134.3" font-size="26" text-anchor="middle" transform="rotate(-90 2205.2 2134.3)" textLength="36.2" lengthAdjust="spacingAndGlyphs">34.5</text><line x1="2249" y1="2160.8" x2="2249" y2="2177.5" stroke-width="1.2"/><path d="M2249 2160.8 L2247.5 2150.3 L2250.5 2150.3 Z" fill="#2b2b2b" stroke="none"/><path d="M2249 2177.5 L2250.5 2188 L2247.5 2188 Z" fill="#2b2b2b" stroke="none"/><line x1="2249" y1="2096.7" x2="2249" y2="2202.6" stroke-width="1.2"/><text class="ct" x="2243.4" y="2114.8" font-size="26" text-anchor="middle" transform="rotate(-90 2243.4 2114.8)" textLength="26.5" lengthAdjust="spacingAndGlyphs">6.5</text></g>
<g id="photo"><defs><linearGradient id="pgBody" x1="0" y1="0" x2="1" y2="1"><stop offset="0" stop-color="#3a3c3d"/><stop offset=".45" stop-color="#1b1c1d"/><stop offset="1" stop-color="#2a2b2c"/></linearGradient><linearGradient id="pgSide" x1="0" y1="0" x2="1" y2="0"><stop offset="0" stop-color="#262728"/><stop offset=".55" stop-color="#4a4c4e"/><stop offset="1" stop-color="#2c2d2e"/></linearGradient><linearGradient id="pgCyl" x1="0" y1="0" x2="1" y2="0"><stop offset="0" stop-color="#d2d2d2"/><stop offset=".4" stop-color="#e6e6e6"/><stop offset=".72" stop-color="#8a8a8a"/><stop offset="1" stop-color="#2e2e2e"/></linearGradient><linearGradient id="pgTop" x1="0" y1="0" x2="1" y2="1"><stop offset="0" stop-color="#ededed"/><stop offset=".5" stop-color="#dddddd"/><stop offset="1" stop-color="#cfcfcf"/></linearGradient><linearGradient id="pgBr" x1="0" y1="0" x2="1" y2="1"><stop offset="0" stop-color="#f0f0f0"/><stop offset=".5" stop-color="#a9a9a9"/><stop offset="1" stop-color="#e2e2e2"/></linearGradient><radialGradient id="pgBore" cx=".4" cy=".35" r=".7"><stop offset="0" stop-color="#4a4a4a"/><stop offset="1" stop-color="#0e0e0e"/></radialGradient><clipPath id="pgClip"><rect x="2900" y="1850" width="608" height="495"/></clipPath></defs><g clip-path="url(#pgClip)"><path d="M2964.8 2217.1 L2967.7 2208.2 L2994.4 2143.2 L2998.8 2134.3 L3097.8 2014.5 L3103.8 2004.2 L3115.6 1991.8 L3154 1993 L3161.4 1983.5 L3207.2 1908.1 L3213.2 1904.2 L3220.5 1905.1 L3375.8 1971.7 L3380.2 1977.6 L3420.1 2054.5 L3421.6 2060.4 L3417.2 2069.2 L3361 2107.7 L3359.5 2116.5 L3334.4 2208.2 L3328.5 2215.6 L3315.2 2217.7 L3304.8 2208.2 L3227.9 2348.7 L3162.9 2348.7 L3127.4 2320.6 L2970.7 2230.4 L2964.8 2223 Z" fill="url(#pgBody)" stroke="none" /><path d="M3331.4 2057.4 L3377.3 1974 L3420.7 2057.4 L3360.4 2108.3 L3334.4 2208.2 L3316.1 2217.1 L3306.3 2206.7 L3312.2 2107.7 Z" fill="url(#pgSide)" stroke="none" /><path d="M3331.4 2057.4 L3377.3 1974 L3381.7 1982 L3337.3 2064.8 Z" fill="#5a5c5e" stroke="none" /><path d="M3337.3 2064.8 L3360.4 2108.3 L3358 2116.5 L3334.4 2072.2 Z" fill="#55575a" stroke="none" /><path d="M3207.2 1908.1 L3220.5 1905.1 L3375.8 1971.7 L3331.4 2057.4 L3312.2 2107.7 L3287.1 2072.2 L3319.6 2007.1 L3174.7 1977.6 Z" fill="#222324" stroke="none" /><path d="M2964.8 2217.1 L3127.4 2314.7 L3162.9 2345.7 L3157 2350.1 L3124.5 2323.5 L2967.7 2231.9 Z" fill="#0f0f10" stroke="none" /><path d="M3127.4 2314.7 L3245.7 2270.3 L3301.9 2208.2 L3227.9 2348.7 L3162.9 2348.7 Z" fill="#232425" stroke="none" /><path d="M3133.3 2320.6 L3233.9 2279.2 L3245.7 2270.3 L3263.4 2279.2 L3216.1 2348.7 L3168.8 2348.7 Z" fill="#101011" stroke="none" /><ellipse cx="3196.9" cy="2320.6" rx="8.9" ry="5.3" transform="rotate(-30 3196.9 2320.6)" fill="#3d3f40" stroke="none" /><ellipse cx="3196.9" cy="2320.6" rx="5.9" ry="3.3" transform="rotate(-30 3196.9 2320.6)" fill="#e8e8e8" stroke="none" /><ellipse cx="2988.4" cy="2214.1" rx="12.4" ry="8.9" transform="rotate(-30 2988.4 2214.1)" fill="#0a0a0a" stroke="none" /><ellipse cx="3324" cy="2098.8" rx="9.5" ry="8.3" transform="rotate(0 3324 2098.8)" fill="#3a3b3c" stroke="none" /><ellipse cx="3115.6" cy="2005.7" rx="8.9" ry="6.5" transform="rotate(-30 3115.6 2005.7)" fill="#0c0c0c" stroke="none" /><ellipse cx="3142.2" cy="2147.6" rx="141.9" ry="130.1" transform="rotate(-35 3142.2 2147.6)" fill="#151516" stroke="none" /><ellipse cx="3139.2" cy="2143.2" rx="134.5" ry="123.6" transform="rotate(-35 3139.2 2143.2)" fill="#2a2b2c" stroke="none" /><ellipse cx="3139.2" cy="2143.2" rx="130.1" ry="119.5" transform="rotate(-35 3139.2 2143.2)" fill="#0f0f10" stroke="none" /><ellipse cx="3147.5" cy="2149.7" rx="129.5" ry="118.3" transform="rotate(-35 3147.5 2149.7)" fill="url(#pgCyl)" stroke="none" /><ellipse cx="3134.8" cy="2131.3" rx="129.5" ry="118.3" transform="rotate(-35 3134.8 2131.3)" fill="url(#pgTop)" stroke="none" /><ellipse cx="3103.8" cy="2032.3" rx="5.6" ry="5.1" transform="rotate(-35 3103.8 2032.3)" fill="#161616" stroke="none" /><ellipse cx="3158.5" cy="2024.9" rx="5.6" ry="5.1" transform="rotate(-35 3158.5 2024.9)" fill="#161616" stroke="none" /><ellipse cx="3207.2" cy="2044.1" rx="8" ry="7.2" transform="rotate(-35 3207.2 2044.1)" fill="#161616" stroke="none" /><ellipse cx="3236.8" cy="2086.1" rx="6.5" ry="5.9" transform="rotate(-35 3236.8 2086.1)" fill="#161616" stroke="none" /><ellipse cx="3210.2" cy="2191.9" rx="6.5" ry="5.9" transform="rotate(-35 3210.2 2191.9)" fill="#161616" stroke="none" /><ellipse cx="3104.3" cy="2236.3" rx="6.5" ry="5.9" transform="rotate(-35 3104.3 2236.3)" fill="#161616" stroke="none" /><ellipse cx="3054.1" cy="2214.1" rx="8.3" ry="7.5" transform="rotate(-35 3054.1 2214.1)" fill="#161616" stroke="none" /><ellipse cx="3026" cy="2172.7" rx="6.5" ry="5.9" transform="rotate(-35 3026 2172.7)" fill="#161616" stroke="none" /><ellipse cx="3055.6" cy="2068.4" rx="5.9" ry="5.3" transform="rotate(-35 3055.6 2068.4)" fill="#161616" stroke="none" /><ellipse cx="3131.8" cy="2126.9" rx="90.2" ry="80.4" transform="rotate(-35 3131.8 2126.9)" fill="#121212" stroke="none" /><ellipse cx="3131.8" cy="2126.9" rx="79.8" ry="71" transform="rotate(-35 3131.8 2126.9)" fill="#262626" stroke="none" /><ellipse cx="3133.3" cy="2128.4" rx="73.9" ry="65.6" transform="rotate(-35 3133.3 2128.4)" fill="#0d0d0d" stroke="none" /><ellipse cx="3142.2" cy="2134.9" rx="72.4" ry="63.3" transform="rotate(-35 3142.2 2134.9)" fill="#f1f1f1" stroke="none" /><ellipse cx="3140.7" cy="2132.8" rx="65.6" ry="57.4" transform="rotate(-35 3140.7 2132.8)" fill="url(#pgBore)" stroke="none" /><path d="M3106.1 2175.7 C3127.4 2197.9 3174.7 2193.4 3198.4 2157.9 C3207.2 2143.2 3207.2 2131.3 3201.3 2122.5 C3186.5 2126.9 3168.8 2125.4 3154 2121 L3148.1 2128.4 L3134.8 2131.3 L3135.7 2140.2 L3123 2152 L3115.6 2163.9 L3120 2168.3 L3111.1 2168.3 Z" fill="#fff" stroke="none"/><path d="M3217.6 1922.9 L3294.5 1952.4 L3311.3 1990 L3299.5 2006.6 L3272.9 1994.7 L3257.5 1992.4 L3227.4 1979.9 L3223.5 1966.3 L3238.3 1953.9 Z" fill="url(#pgBr)" stroke="none" /><path d="M3238.3 1953.9 L3263.4 1942.1 L3278.2 1968.7 L3256 1965.7 Z" fill="#6d6d6d" stroke="none" /><path d="M3263.4 1943.6 L3290 1953.9 L3303.3 1985 L3278.2 1968.7 Z" fill="#8c8c8c" stroke="none" /><path d="M3257.5 1993 L3275.8 2004.2 L3243.3 2052.1 L3223.5 2041.1 Z" fill="#f3f3f3" stroke="none" /><path d="M3275.8 2004.2 L3281.2 2010.1 L3248.6 2054.5 L3243.3 2052.1 Z" fill="#444" stroke="none" /><path d="M3294.5 1952.4 L3311.3 1990 L3325.5 2010.1 L3309.3 1968.7 Z" fill="#1a1a1a" stroke="none" /><ellipse cx="3244.8" cy="1967.8" rx="3.8" ry="3.5" transform="rotate(0 3244.8 1967.8)" fill="#777" stroke="none" /><ellipse cx="3284.7" cy="1985" rx="3.8" ry="3.5" transform="rotate(0 3284.7 1985)" fill="#777" stroke="none" /><ellipse cx="3244.8" cy="1967.8" rx="1.8" ry="1.8" transform="rotate(0 3244.8 1967.8)" fill="#ddd" stroke="none" /><ellipse cx="3284.7" cy="1985" rx="1.8" ry="1.8" transform="rotate(0 3284.7 1985)" fill="#ddd" stroke="none" /></g></g>
<g id="icon"><path d="M128 965.6 L141.4 955 L148.8 957.7 L137.7 967 L169.1 976.7 L169.1 983.6 L128 973.4 Z" stroke-width="1.2" fill="#fff"/><path d="M128 965.6 L137.7 967" stroke-width="1.2"/><path d="M137.7 967 L137.7 973.4" stroke-width="1.2"/><path d="M158.1 968.8 L158.1 973.4 L193.2 978.1 L193.2 970.7" stroke-width="1.2"/><path d="M169.1 976.7 L193.2 981.8 L225.1 972.1 L225.1 1013.2 L226.5 1013.2" stroke-width="1.2"/><ellipse cx="172.8" cy="959.6" rx="27" ry="10.4" transform="rotate(0 172.8 959.6)" stroke-width="1.2" fill="#fff"/><ellipse cx="172.8" cy="954.2" rx="27" ry="10.4" transform="rotate(0 172.8 954.2)" stroke-width="1.2" fill="#fff"/><ellipse cx="173.8" cy="952.6" rx="19.9" ry="6.9" transform="rotate(0 173.8 952.6)" stroke-width="2.4"/><ellipse cx="173.8" cy="952.9" rx="12.9" ry="3.9" transform="rotate(0 173.8 952.9)" stroke-width="1.2" fill="#fff"/><path d="M145.9 954.2 L145.9 959.6" stroke-width="1.2"/><path d="M199.8 954.2 L199.8 959.6" stroke-width="1.2"/><path d="M202.4 960.5 L214.4 959.6 L214.4 970.7 L202.4 973.4 Z" stroke-width="1.2" fill="#fff"/><path d="M206.1 960.5 L206.1 972.5" stroke-width="1.2"/><path d="M210.7 960 L210.7 971.6" stroke-width="1.2"/><path d="M185.8 960.5 L202.4 967" stroke-width="1.2"/><path d="M189.5 957.7 L202.4 962.3" stroke-width="1.2"/><path d="M162.7 984.5 L193.6 993.8 L193.6 1018.7 L196.9 1020.6 L196.9 1066.8 L162.7 1056.6 Z" stroke-width="1.2" fill="#fff"/><path d="M193.6 993.8 L225.1 981.8 L225.1 1011.3 L193.6 1018.7 Z" stroke-width="1.2" fill="#fff"/><path d="M169.1 983.6 L169.1 986.4" stroke-width="1.2"/><path d="M176.5 978.1 L176.5 984.5" stroke-width="1.2"/><path d="M183 979 L183 985.5" stroke-width="1.2"/><path d="M170.1 984.5 L176.5 984.5" stroke-width="1.2"/><path d="M162.7 993.8 L193.6 1003 L225.1 993.8" stroke-width="1.2"/><path d="M162.7 1010.4 L193.6 1018.7 L225.1 1011.3" stroke-width="1.2"/><path d="M193.6 985.5 L193.6 1018.7" stroke-width="1.2"/><path d="M193.2 981.8 L193.2 993.8" stroke-width="1.2"/><ellipse cx="202.9" cy="1007.6" rx="2.8" ry="3.1" transform="rotate(0 202.9 1007.6)" stroke-width="1.2"/><circle cx="169.1" cy="1023.3" r="1.7" stroke-width="0.5" fill="#2b2b2b"/><circle cx="186.7" cy="1028" r="1.7" stroke-width="0.5" fill="#2b2b2b"/><circle cx="169.1" cy="1047.4" r="1.7" stroke-width="0.5" fill="#2b2b2b"/><circle cx="186.7" cy="1052" r="1.7" stroke-width="0.5" fill="#2b2b2b"/><circle cx="210.7" cy="981.3" r="1.2" stroke-width="0.5" fill="#2b2b2b"/><path d="M196.9 1020.6 L226.5 1013.2 L244.9 1018.7 L214.4 1028 Z" stroke-width="1.2" fill="#fff"/><path d="M196.9 1020.6 L214.4 1028 L214.4 1069.6 L196.9 1066.8 Z" stroke-width="1.2" fill="#fff"/><path d="M214.4 1028 L244.9 1018.7 L244.9 1061.2 L214.4 1069.6 Z" stroke-width="1.2" fill="#fff"/><path d="M220.9 1026.1 L220.9 1067.7" stroke-width="1.2"/><path d="M239.4 1020.6 L239.4 1063.1" stroke-width="1.2"/><ellipse cx="206.1" cy="1056.6" rx="3" ry="4.3" transform="rotate(-8 206.1 1056.6)" stroke-width="1.2"/><ellipse cx="229.7" cy="1044.1" rx="12.5" ry="18.9" transform="rotate(12 229.7 1044.1)" stroke-width="2.2"/><ellipse cx="228.8" cy="1044.1" rx="9.7" ry="16.2" transform="rotate(12 228.8 1044.1)" stroke-width="1.2"/><ellipse cx="225.1" cy="1042.3" rx="4.2" ry="6.9" transform="rotate(10 225.1 1042.3)" stroke-width="2"/><path d="M225.1 1033.5 L225.5 1052.9" stroke-width="1.2"/><circle cx="216.3" cy="1029.8" r="1.3" stroke-width="0.5" fill="#2b2b2b"/><circle cx="243.1" cy="1022.4" r="1.3" stroke-width="0.5" fill="#2b2b2b"/><circle cx="216.3" cy="1065.9" r="1.3" stroke-width="0.5" fill="#2b2b2b"/><circle cx="243.1" cy="1059.4" r="1.3" stroke-width="0.5" fill="#2b2b2b"/></g></svg>
</body></html>
